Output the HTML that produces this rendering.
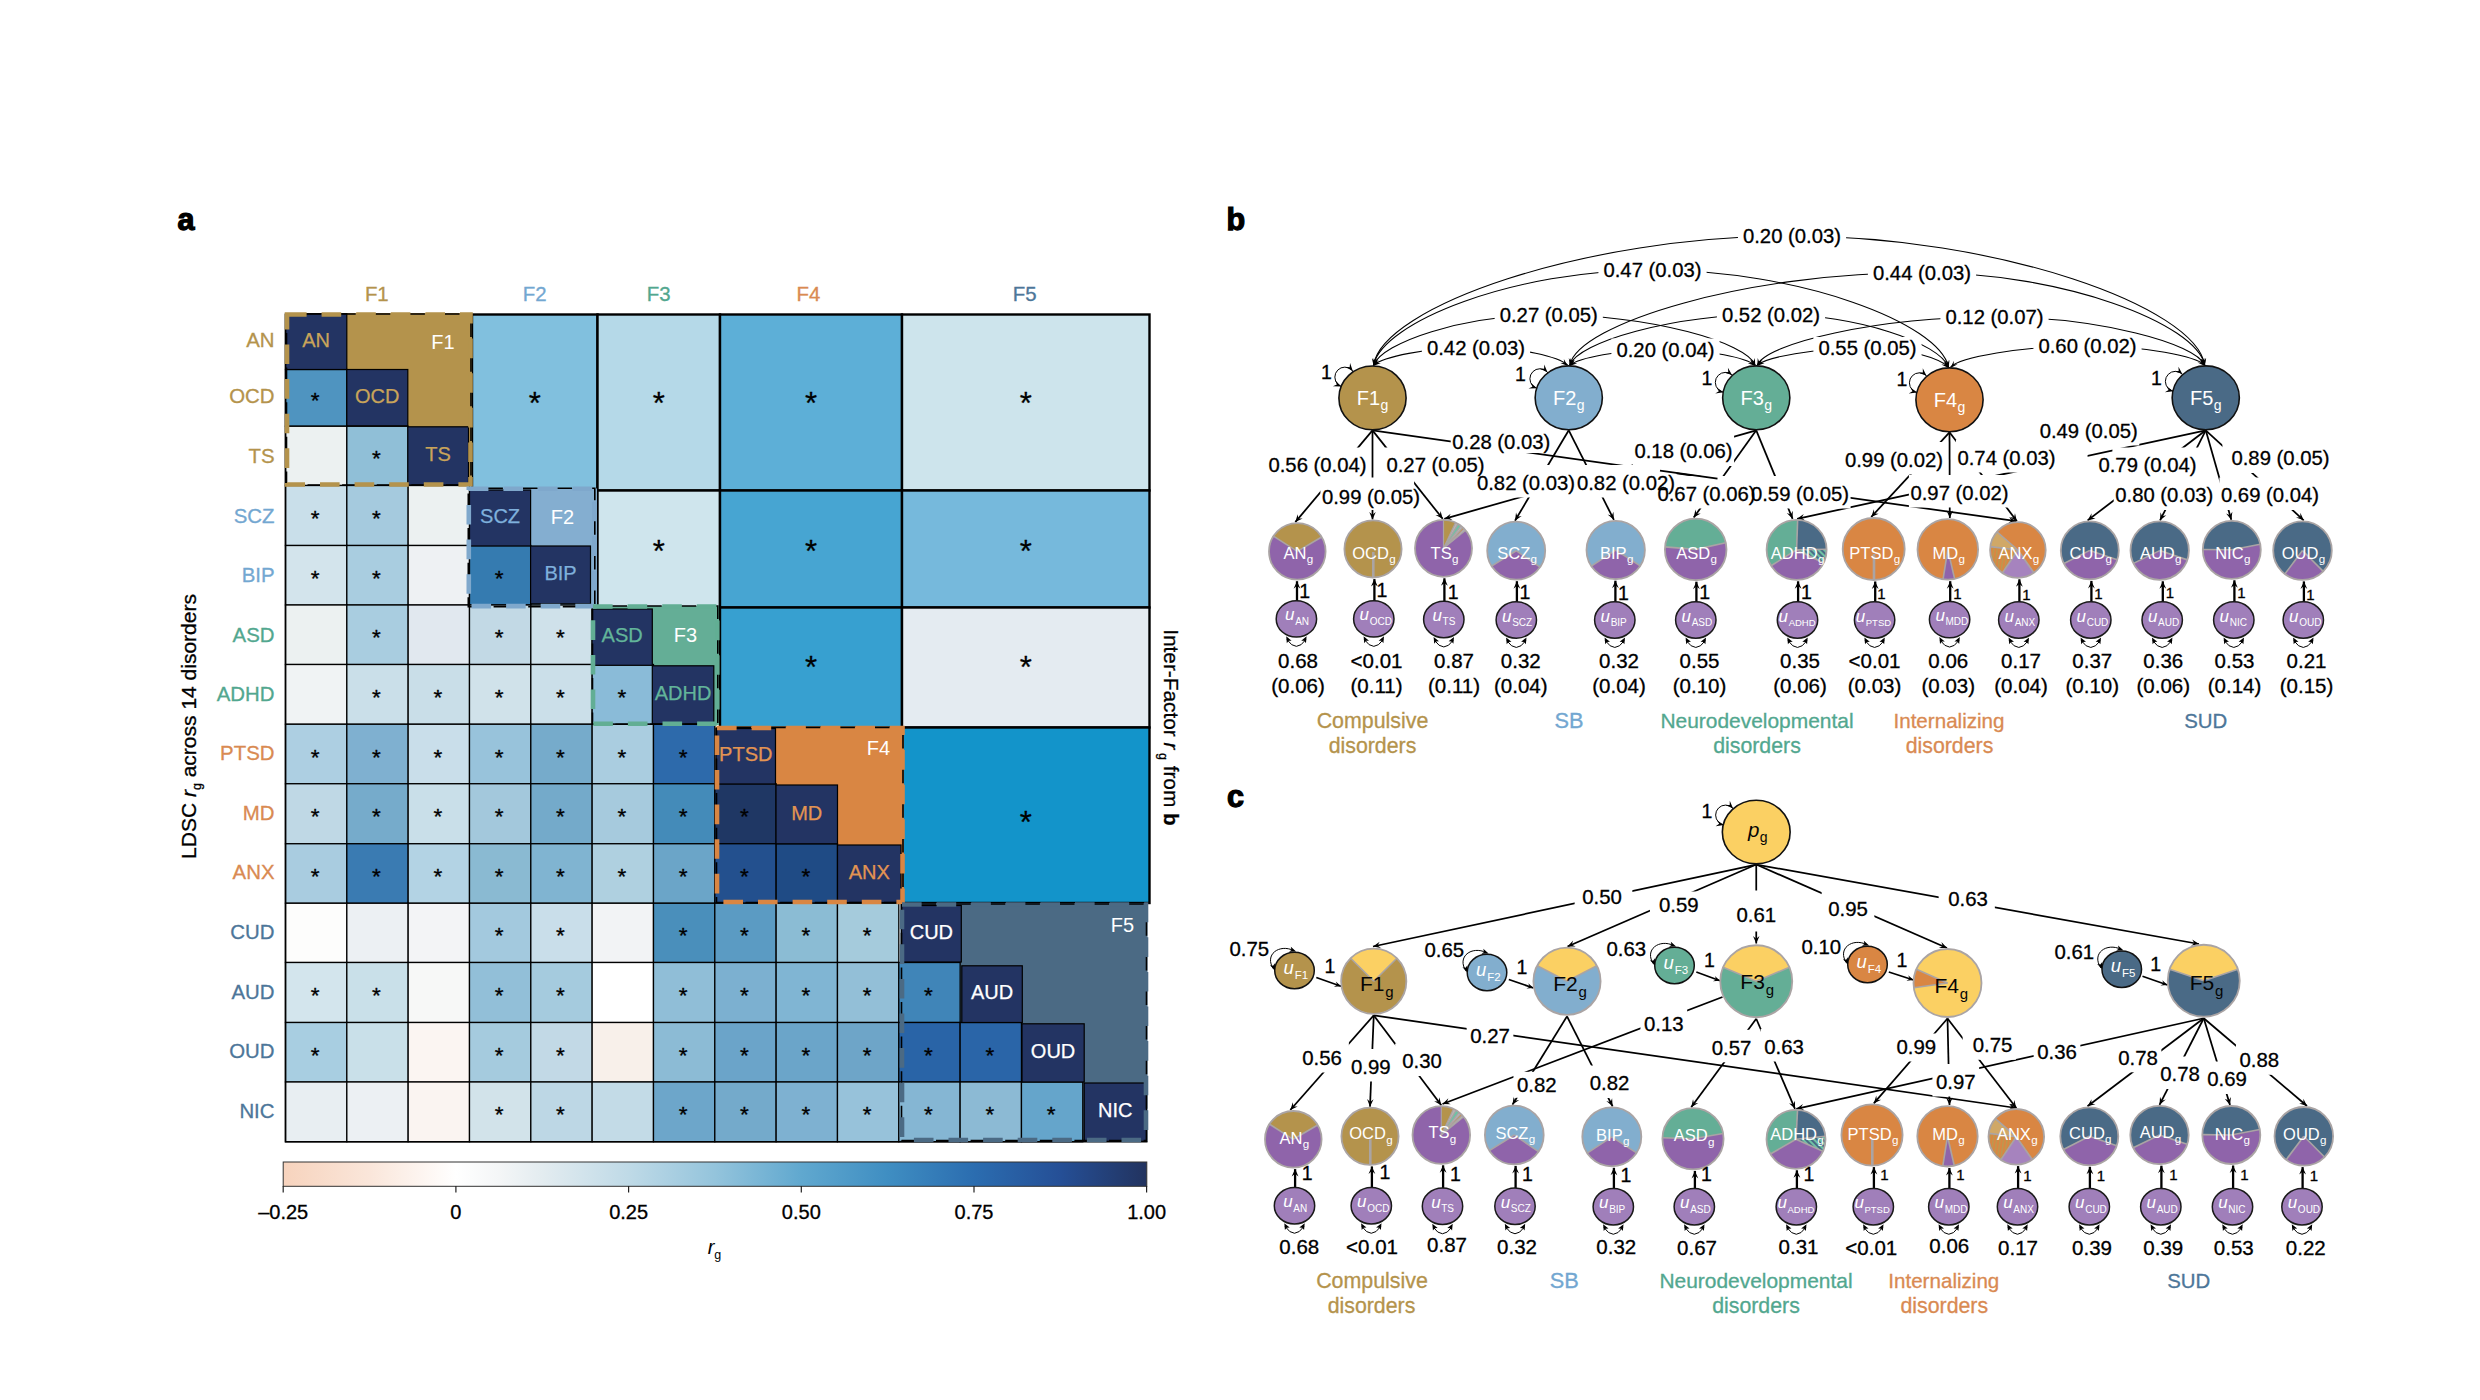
<!DOCTYPE html>
<html lang="en"><head><meta charset="utf-8"><title>Figure</title>
<style>html,body{margin:0;padding:0;background:#fff;}body{width:2480px;height:1400px;overflow:hidden;}svg{display:block;}text{font-family:"Liberation Sans", sans-serif;}.hv text[fill="#000"]{stroke:#000;stroke-width:0.3px;}</style>
</head><body>
<svg width="2480" height="1400" viewBox="0 0 2480 1400">
<defs>
<linearGradient id="cbar" x1="0" x2="1" y1="0" y2="0">
<stop offset="0.0" stop-color="#f7d3bd"/>
<stop offset="0.1" stop-color="#fae6da"/>
<stop offset="0.2" stop-color="#ffffff"/>
<stop offset="0.25" stop-color="#f4f6f7"/>
<stop offset="0.3" stop-color="#e3ecf0"/>
<stop offset="0.4" stop-color="#bfdae7"/>
<stop offset="0.5" stop-color="#94c4dc"/>
<stop offset="0.6" stop-color="#60a8cf"/>
<stop offset="0.7" stop-color="#3f8ec2"/>
<stop offset="0.8" stop-color="#2b6db0"/>
<stop offset="0.9" stop-color="#254f96"/>
<stop offset="1.0" stop-color="#22335f"/>
</linearGradient>
<pattern id="hatchG" width="4" height="4" patternUnits="userSpaceOnUse" patternTransform="rotate(-45)"><rect width="4" height="4" fill="#4a6a86"/><rect width="2" height="4" fill="#6fc2a4"/></pattern>
<pattern id="hatchO" width="3.4" height="3.4" patternUnits="userSpaceOnUse" patternTransform="rotate(8)"><rect width="3.4" height="3.4" fill="#d98643"/><rect width="1.3" height="3.4" fill="#b99a50"/></pattern>
</defs>
<rect width="2480" height="1400" fill="#fff"/>
<text x="177.5" y="229.5" font-size="30.5" font-weight="bold" fill="#000" stroke="#000" stroke-width="1.25">a</text>
<text x="1226.5" y="229.5" font-size="30.5" font-weight="bold" fill="#000" stroke="#000" stroke-width="1.25">b</text>
<text x="1227.0" y="806.5" font-size="30.5" font-weight="bold" fill="#000" stroke="#000" stroke-width="1.25">c</text>
<g id="panelA" class="hv">
<rect x="472.0" y="314.5" width="125.5" height="176.0" fill="#81c0de" stroke="#000" stroke-width="2.4"/>
<text x="534.75" y="413.55" font-size="31" text-anchor="middle" fill="#000" >*</text>
<rect x="597.5" y="314.5" width="122.5" height="176.0" fill="#b5d9e8" stroke="#000" stroke-width="2.4"/>
<text x="658.75" y="413.55" font-size="31" text-anchor="middle" fill="#000" >*</text>
<rect x="720.0" y="314.5" width="182.0" height="176.0" fill="#5dafd7" stroke="#000" stroke-width="2.4"/>
<text x="811.00" y="413.55" font-size="31" text-anchor="middle" fill="#000" >*</text>
<rect x="902.0" y="314.5" width="247.5" height="176.0" fill="#cde4ec" stroke="#000" stroke-width="2.4"/>
<text x="1025.75" y="413.55" font-size="31" text-anchor="middle" fill="#000" >*</text>
<rect x="597.5" y="490.5" width="122.5" height="117.0" fill="#cfe5ed" stroke="#000" stroke-width="2.4"/>
<text x="658.75" y="562.30" font-size="31" text-anchor="middle" fill="#000" >*</text>
<rect x="720.0" y="490.5" width="182.0" height="117.0" fill="#47a5d2" stroke="#000" stroke-width="2.4"/>
<text x="811.00" y="562.30" font-size="31" text-anchor="middle" fill="#000" >*</text>
<rect x="902.0" y="490.5" width="247.5" height="117.0" fill="#76b9dc" stroke="#000" stroke-width="2.4"/>
<text x="1025.75" y="562.30" font-size="31" text-anchor="middle" fill="#000" >*</text>
<rect x="720.0" y="607.5" width="182.0" height="120.0" fill="#37a0d0" stroke="#000" stroke-width="2.4"/>
<text x="811.00" y="677.80" font-size="31" text-anchor="middle" fill="#000" >*</text>
<rect x="902.0" y="607.5" width="247.5" height="120.0" fill="#e4ebf1" stroke="#000" stroke-width="2.4"/>
<text x="1025.75" y="677.80" font-size="31" text-anchor="middle" fill="#000" >*</text>
<rect x="902.0" y="727.5" width="247.5" height="175.5" fill="#1394ca" stroke="#000" stroke-width="2.4"/>
<text x="1025.75" y="832.80" font-size="31" text-anchor="middle" fill="#000" >*</text>
<rect x="285.5" y="313.0" width="186.5" height="173.0" fill="#b4934c"/>
<rect x="469.5" y="488.5" width="127.5" height="117.5" fill="#84aed0"/>
<rect x="592.0" y="606.0" width="127.0" height="119.0" fill="#64ae96"/>
<rect x="715.5" y="726.5" width="188.5" height="177.0" fill="#d98643"/>
<rect x="900.5" y="903.0" width="247.0" height="238.5" fill="#4b6a84"/>
<rect x="285.50" y="369.50" width="61.33" height="56.75" fill="#4f94c0" stroke="#000" stroke-width="1.3"/>
<rect x="285.50" y="426.25" width="61.33" height="59.25" fill="#ecf1f1" stroke="#000" stroke-width="1.3"/>
<rect x="346.83" y="426.25" width="61.33" height="59.25" fill="#90bfd7" stroke="#000" stroke-width="1.3"/>
<rect x="285.50" y="485.50" width="61.33" height="60.00" fill="#c9dfea" stroke="#000" stroke-width="1.3"/>
<rect x="346.83" y="485.50" width="61.33" height="60.00" fill="#a5cade" stroke="#000" stroke-width="1.3"/>
<rect x="408.16" y="485.50" width="61.33" height="60.00" fill="#ecf1f1" stroke="#000" stroke-width="1.3"/>
<rect x="285.50" y="545.50" width="61.33" height="59.50" fill="#d3e4ec" stroke="#000" stroke-width="1.3"/>
<rect x="346.83" y="545.50" width="61.33" height="59.50" fill="#a9cde0" stroke="#000" stroke-width="1.3"/>
<rect x="408.16" y="545.50" width="61.33" height="59.50" fill="#eef1f3" stroke="#000" stroke-width="1.3"/>
<rect x="469.49" y="545.50" width="61.33" height="59.50" fill="#357bb0" stroke="#000" stroke-width="1.3"/>
<rect x="285.50" y="605.00" width="61.33" height="59.50" fill="#ecf1f1" stroke="#000" stroke-width="1.3"/>
<rect x="346.83" y="605.00" width="61.33" height="59.50" fill="#a9cde0" stroke="#000" stroke-width="1.3"/>
<rect x="408.16" y="605.00" width="61.33" height="59.50" fill="#e1e8ef" stroke="#000" stroke-width="1.3"/>
<rect x="469.49" y="605.00" width="61.33" height="59.50" fill="#c2d9e5" stroke="#000" stroke-width="1.3"/>
<rect x="530.82" y="605.00" width="61.33" height="59.50" fill="#cfe1ea" stroke="#000" stroke-width="1.3"/>
<rect x="285.50" y="664.50" width="61.33" height="59.75" fill="#f0f3f4" stroke="#000" stroke-width="1.3"/>
<rect x="346.83" y="664.50" width="61.33" height="59.75" fill="#cadfe9" stroke="#000" stroke-width="1.3"/>
<rect x="408.16" y="664.50" width="61.33" height="59.75" fill="#c9dee8" stroke="#000" stroke-width="1.3"/>
<rect x="469.49" y="664.50" width="61.33" height="59.75" fill="#d0e2ea" stroke="#000" stroke-width="1.3"/>
<rect x="530.82" y="664.50" width="61.33" height="59.75" fill="#cbdfe9" stroke="#000" stroke-width="1.3"/>
<rect x="592.15" y="664.50" width="61.33" height="59.75" fill="#8abbd8" stroke="#000" stroke-width="1.3"/>
<rect x="285.50" y="724.25" width="61.33" height="59.50" fill="#adcfe2" stroke="#000" stroke-width="1.3"/>
<rect x="346.83" y="724.25" width="61.33" height="59.50" fill="#7fb0d0" stroke="#000" stroke-width="1.3"/>
<rect x="408.16" y="724.25" width="61.33" height="59.50" fill="#c9deea" stroke="#000" stroke-width="1.3"/>
<rect x="469.49" y="724.25" width="61.33" height="59.50" fill="#98c3db" stroke="#000" stroke-width="1.3"/>
<rect x="530.82" y="724.25" width="61.33" height="59.50" fill="#76abcb" stroke="#000" stroke-width="1.3"/>
<rect x="592.15" y="724.25" width="61.33" height="59.50" fill="#aacde0" stroke="#000" stroke-width="1.3"/>
<rect x="653.48" y="724.25" width="61.33" height="59.50" fill="#2d6aab" stroke="#000" stroke-width="1.3"/>
<rect x="285.50" y="783.75" width="61.33" height="60.00" fill="#bfd8e5" stroke="#000" stroke-width="1.3"/>
<rect x="346.83" y="783.75" width="61.33" height="60.00" fill="#76abcb" stroke="#000" stroke-width="1.3"/>
<rect x="408.16" y="783.75" width="61.33" height="60.00" fill="#c9dfe9" stroke="#000" stroke-width="1.3"/>
<rect x="469.49" y="783.75" width="61.33" height="60.00" fill="#a3c8dc" stroke="#000" stroke-width="1.3"/>
<rect x="530.82" y="783.75" width="61.33" height="60.00" fill="#74aaca" stroke="#000" stroke-width="1.3"/>
<rect x="592.15" y="783.75" width="61.33" height="60.00" fill="#a6cadd" stroke="#000" stroke-width="1.3"/>
<rect x="653.48" y="783.75" width="61.33" height="60.00" fill="#448bb9" stroke="#000" stroke-width="1.3"/>
<rect x="714.81" y="783.75" width="61.33" height="60.00" fill="#1f3764" stroke="#000" stroke-width="1.3"/>
<rect x="285.50" y="843.75" width="61.33" height="59.50" fill="#a9cce0" stroke="#000" stroke-width="1.3"/>
<rect x="346.83" y="843.75" width="61.33" height="59.50" fill="#3a7bb2" stroke="#000" stroke-width="1.3"/>
<rect x="408.16" y="843.75" width="61.33" height="59.50" fill="#b3d3e4" stroke="#000" stroke-width="1.3"/>
<rect x="469.49" y="843.75" width="61.33" height="59.50" fill="#8abad2" stroke="#000" stroke-width="1.3"/>
<rect x="530.82" y="843.75" width="61.33" height="59.50" fill="#80b4d1" stroke="#000" stroke-width="1.3"/>
<rect x="592.15" y="843.75" width="61.33" height="59.50" fill="#afd0e0" stroke="#000" stroke-width="1.3"/>
<rect x="653.48" y="843.75" width="61.33" height="59.50" fill="#6ba5c8" stroke="#000" stroke-width="1.3"/>
<rect x="714.81" y="843.75" width="61.33" height="59.50" fill="#23508e" stroke="#000" stroke-width="1.3"/>
<rect x="776.14" y="843.75" width="61.33" height="59.50" fill="#1f4b85" stroke="#000" stroke-width="1.3"/>
<rect x="285.50" y="903.25" width="61.33" height="59.25" fill="#fdfdfc" stroke="#000" stroke-width="1.3"/>
<rect x="346.83" y="903.25" width="61.33" height="59.25" fill="#ecf0f3" stroke="#000" stroke-width="1.3"/>
<rect x="408.16" y="903.25" width="61.33" height="59.25" fill="#f3f4f6" stroke="#000" stroke-width="1.3"/>
<rect x="469.49" y="903.25" width="61.33" height="59.25" fill="#a3c9de" stroke="#000" stroke-width="1.3"/>
<rect x="530.82" y="903.25" width="61.33" height="59.25" fill="#c9deea" stroke="#000" stroke-width="1.3"/>
<rect x="592.15" y="903.25" width="61.33" height="59.25" fill="#f2f3f5" stroke="#000" stroke-width="1.3"/>
<rect x="653.48" y="903.25" width="61.33" height="59.25" fill="#4a8fbb" stroke="#000" stroke-width="1.3"/>
<rect x="714.81" y="903.25" width="61.33" height="59.25" fill="#5b9bc3" stroke="#000" stroke-width="1.3"/>
<rect x="776.14" y="903.25" width="61.33" height="59.25" fill="#8bbcd4" stroke="#000" stroke-width="1.3"/>
<rect x="837.47" y="903.25" width="61.33" height="59.25" fill="#a5cbdc" stroke="#000" stroke-width="1.3"/>
<rect x="285.50" y="962.50" width="61.33" height="60.00" fill="#d3e5ed" stroke="#000" stroke-width="1.3"/>
<rect x="346.83" y="962.50" width="61.33" height="60.00" fill="#c9e0e9" stroke="#000" stroke-width="1.3"/>
<rect x="408.16" y="962.50" width="61.33" height="60.00" fill="#f7f8f7" stroke="#000" stroke-width="1.3"/>
<rect x="469.49" y="962.50" width="61.33" height="60.00" fill="#92bfd8" stroke="#000" stroke-width="1.3"/>
<rect x="530.82" y="962.50" width="61.33" height="60.00" fill="#a5cbde" stroke="#000" stroke-width="1.3"/>
<rect x="592.15" y="962.50" width="61.33" height="60.00" fill="#ffffff" stroke="#000" stroke-width="1.3"/>
<rect x="653.48" y="962.50" width="61.33" height="60.00" fill="#90bed7" stroke="#000" stroke-width="1.3"/>
<rect x="714.81" y="962.50" width="61.33" height="60.00" fill="#7cb0d0" stroke="#000" stroke-width="1.3"/>
<rect x="776.14" y="962.50" width="61.33" height="60.00" fill="#80b5d3" stroke="#000" stroke-width="1.3"/>
<rect x="837.47" y="962.50" width="61.33" height="60.00" fill="#93bfd7" stroke="#000" stroke-width="1.3"/>
<rect x="898.80" y="962.50" width="61.33" height="60.00" fill="#4085b8" stroke="#000" stroke-width="1.3"/>
<rect x="285.50" y="1022.50" width="61.33" height="59.50" fill="#a8cee1" stroke="#000" stroke-width="1.3"/>
<rect x="346.83" y="1022.50" width="61.33" height="59.50" fill="#c9e0e9" stroke="#000" stroke-width="1.3"/>
<rect x="408.16" y="1022.50" width="61.33" height="59.50" fill="#fbf5f2" stroke="#000" stroke-width="1.3"/>
<rect x="469.49" y="1022.50" width="61.33" height="59.50" fill="#a5cbde" stroke="#000" stroke-width="1.3"/>
<rect x="530.82" y="1022.50" width="61.33" height="59.50" fill="#c2d9e6" stroke="#000" stroke-width="1.3"/>
<rect x="592.15" y="1022.50" width="61.33" height="59.50" fill="#f8f0ea" stroke="#000" stroke-width="1.3"/>
<rect x="653.48" y="1022.50" width="61.33" height="59.50" fill="#8cbbd5" stroke="#000" stroke-width="1.3"/>
<rect x="714.81" y="1022.50" width="61.33" height="59.50" fill="#6ba4c9" stroke="#000" stroke-width="1.3"/>
<rect x="776.14" y="1022.50" width="61.33" height="59.50" fill="#6ba5c9" stroke="#000" stroke-width="1.3"/>
<rect x="837.47" y="1022.50" width="61.33" height="59.50" fill="#6ea5c8" stroke="#000" stroke-width="1.3"/>
<rect x="898.80" y="1022.50" width="61.33" height="59.50" fill="#2964a7" stroke="#000" stroke-width="1.3"/>
<rect x="960.13" y="1022.50" width="61.33" height="59.50" fill="#2a65a8" stroke="#000" stroke-width="1.3"/>
<rect x="285.50" y="1082.00" width="61.33" height="59.75" fill="#e8eef2" stroke="#000" stroke-width="1.3"/>
<rect x="346.83" y="1082.00" width="61.33" height="59.75" fill="#ecf0f3" stroke="#000" stroke-width="1.3"/>
<rect x="408.16" y="1082.00" width="61.33" height="59.75" fill="#faf4f1" stroke="#000" stroke-width="1.3"/>
<rect x="469.49" y="1082.00" width="61.33" height="59.75" fill="#d2e3ea" stroke="#000" stroke-width="1.3"/>
<rect x="530.82" y="1082.00" width="61.33" height="59.75" fill="#bdd7e5" stroke="#000" stroke-width="1.3"/>
<rect x="592.15" y="1082.00" width="61.33" height="59.75" fill="#c3dbe7" stroke="#000" stroke-width="1.3"/>
<rect x="653.48" y="1082.00" width="61.33" height="59.75" fill="#6da6ca" stroke="#000" stroke-width="1.3"/>
<rect x="714.81" y="1082.00" width="61.33" height="59.75" fill="#74aacb" stroke="#000" stroke-width="1.3"/>
<rect x="776.14" y="1082.00" width="61.33" height="59.75" fill="#7eb1d1" stroke="#000" stroke-width="1.3"/>
<rect x="837.47" y="1082.00" width="61.33" height="59.75" fill="#97c2da" stroke="#000" stroke-width="1.3"/>
<rect x="898.80" y="1082.00" width="61.33" height="59.75" fill="#85b6d3" stroke="#000" stroke-width="1.3"/>
<rect x="960.13" y="1082.00" width="61.33" height="59.75" fill="#8cbad4" stroke="#000" stroke-width="1.3"/>
<rect x="1021.46" y="1082.00" width="61.33" height="59.75" fill="#65a5cb" stroke="#000" stroke-width="1.3"/>
<rect x="285.5" y="313.75" width="61.30" height="55.75" fill="#233463" stroke="#000" stroke-width="1.2"/>
<rect x="346.8" y="369.5" width="61.00" height="56.30" fill="#233463" stroke="#000" stroke-width="1.2"/>
<rect x="407.8" y="426.8" width="60.70" height="58.20" fill="#233463" stroke="#000" stroke-width="1.2"/>
<rect x="469.5" y="490.0" width="61.10" height="56.00" fill="#233463" stroke="#000" stroke-width="1.2"/>
<rect x="530.6" y="546.0" width="59.90" height="57.80" fill="#233463" stroke="#000" stroke-width="1.2"/>
<rect x="592.0" y="609.0" width="60.30" height="56.30" fill="#233463" stroke="#000" stroke-width="1.2"/>
<rect x="652.3" y="665.8" width="61.50" height="58.00" fill="#233463" stroke="#000" stroke-width="1.2"/>
<rect x="716.0" y="728.5" width="59.50" height="55.50" fill="#233463" stroke="#000" stroke-width="1.2"/>
<rect x="776.0" y="785.0" width="61.50" height="58.80" fill="#233463" stroke="#000" stroke-width="1.2"/>
<rect x="837.5" y="845.0" width="63.50" height="57.50" fill="#233463" stroke="#000" stroke-width="1.2"/>
<rect x="901.5" y="905.5" width="59.80" height="56.50" fill="#233463" stroke="#000" stroke-width="1.2"/>
<rect x="961.8" y="965.8" width="60.50" height="56.70" fill="#233463" stroke="#000" stroke-width="1.2"/>
<rect x="1022.0" y="1023.8" width="62.20" height="58.20" fill="#233463" stroke="#000" stroke-width="1.2"/>
<rect x="1084.2" y="1083.0" width="62.30" height="58.30" fill="#233463" stroke="#000" stroke-width="1.2"/>
<text x="315.16" y="408.48" font-size="22.5" text-anchor="middle" fill="#000" stroke="#000" stroke-width="0.25">*</text>
<text x="376.50" y="466.48" font-size="22.5" text-anchor="middle" fill="#000" stroke="#000" stroke-width="0.25">*</text>
<text x="315.16" y="526.10" font-size="22.5" text-anchor="middle" fill="#000" stroke="#000" stroke-width="0.25">*</text>
<text x="376.50" y="526.10" font-size="22.5" text-anchor="middle" fill="#000" stroke="#000" stroke-width="0.25">*</text>
<text x="315.16" y="585.85" font-size="22.5" text-anchor="middle" fill="#000" stroke="#000" stroke-width="0.25">*</text>
<text x="376.50" y="585.85" font-size="22.5" text-anchor="middle" fill="#000" stroke="#000" stroke-width="0.25">*</text>
<text x="499.15" y="585.85" font-size="22.5" text-anchor="middle" fill="#000" stroke="#000" stroke-width="0.25">*</text>
<text x="376.50" y="645.35" font-size="22.5" text-anchor="middle" fill="#000" stroke="#000" stroke-width="0.25">*</text>
<text x="499.15" y="645.35" font-size="22.5" text-anchor="middle" fill="#000" stroke="#000" stroke-width="0.25">*</text>
<text x="560.48" y="645.35" font-size="22.5" text-anchor="middle" fill="#000" stroke="#000" stroke-width="0.25">*</text>
<text x="376.50" y="704.98" font-size="22.5" text-anchor="middle" fill="#000" stroke="#000" stroke-width="0.25">*</text>
<text x="437.82" y="704.98" font-size="22.5" text-anchor="middle" fill="#000" stroke="#000" stroke-width="0.25">*</text>
<text x="499.15" y="704.98" font-size="22.5" text-anchor="middle" fill="#000" stroke="#000" stroke-width="0.25">*</text>
<text x="560.48" y="704.98" font-size="22.5" text-anchor="middle" fill="#000" stroke="#000" stroke-width="0.25">*</text>
<text x="621.82" y="704.98" font-size="22.5" text-anchor="middle" fill="#000" stroke="#000" stroke-width="0.25">*</text>
<text x="315.16" y="764.60" font-size="22.5" text-anchor="middle" fill="#000" stroke="#000" stroke-width="0.25">*</text>
<text x="376.50" y="764.60" font-size="22.5" text-anchor="middle" fill="#000" stroke="#000" stroke-width="0.25">*</text>
<text x="437.82" y="764.60" font-size="22.5" text-anchor="middle" fill="#000" stroke="#000" stroke-width="0.25">*</text>
<text x="499.15" y="764.60" font-size="22.5" text-anchor="middle" fill="#000" stroke="#000" stroke-width="0.25">*</text>
<text x="560.48" y="764.60" font-size="22.5" text-anchor="middle" fill="#000" stroke="#000" stroke-width="0.25">*</text>
<text x="621.82" y="764.60" font-size="22.5" text-anchor="middle" fill="#000" stroke="#000" stroke-width="0.25">*</text>
<text x="683.14" y="764.60" font-size="22.5" text-anchor="middle" fill="#000" stroke="#000" stroke-width="0.25">*</text>
<text x="315.16" y="824.35" font-size="22.5" text-anchor="middle" fill="#000" stroke="#000" stroke-width="0.25">*</text>
<text x="376.50" y="824.35" font-size="22.5" text-anchor="middle" fill="#000" stroke="#000" stroke-width="0.25">*</text>
<text x="437.82" y="824.35" font-size="22.5" text-anchor="middle" fill="#000" stroke="#000" stroke-width="0.25">*</text>
<text x="499.15" y="824.35" font-size="22.5" text-anchor="middle" fill="#000" stroke="#000" stroke-width="0.25">*</text>
<text x="560.48" y="824.35" font-size="22.5" text-anchor="middle" fill="#000" stroke="#000" stroke-width="0.25">*</text>
<text x="621.82" y="824.35" font-size="22.5" text-anchor="middle" fill="#000" stroke="#000" stroke-width="0.25">*</text>
<text x="683.14" y="824.35" font-size="22.5" text-anchor="middle" fill="#000" stroke="#000" stroke-width="0.25">*</text>
<text x="744.47" y="824.35" font-size="22.5" text-anchor="middle" fill="#000" stroke="#000" stroke-width="0.25">*</text>
<text x="315.16" y="884.10" font-size="22.5" text-anchor="middle" fill="#000" stroke="#000" stroke-width="0.25">*</text>
<text x="376.50" y="884.10" font-size="22.5" text-anchor="middle" fill="#000" stroke="#000" stroke-width="0.25">*</text>
<text x="437.82" y="884.10" font-size="22.5" text-anchor="middle" fill="#000" stroke="#000" stroke-width="0.25">*</text>
<text x="499.15" y="884.10" font-size="22.5" text-anchor="middle" fill="#000" stroke="#000" stroke-width="0.25">*</text>
<text x="560.48" y="884.10" font-size="22.5" text-anchor="middle" fill="#000" stroke="#000" stroke-width="0.25">*</text>
<text x="621.82" y="884.10" font-size="22.5" text-anchor="middle" fill="#000" stroke="#000" stroke-width="0.25">*</text>
<text x="683.14" y="884.10" font-size="22.5" text-anchor="middle" fill="#000" stroke="#000" stroke-width="0.25">*</text>
<text x="744.47" y="884.10" font-size="22.5" text-anchor="middle" fill="#000" stroke="#000" stroke-width="0.25">*</text>
<text x="805.81" y="884.10" font-size="22.5" text-anchor="middle" fill="#000" stroke="#000" stroke-width="0.25">*</text>
<text x="499.15" y="943.48" font-size="22.5" text-anchor="middle" fill="#000" stroke="#000" stroke-width="0.25">*</text>
<text x="560.48" y="943.48" font-size="22.5" text-anchor="middle" fill="#000" stroke="#000" stroke-width="0.25">*</text>
<text x="683.14" y="943.48" font-size="22.5" text-anchor="middle" fill="#000" stroke="#000" stroke-width="0.25">*</text>
<text x="744.47" y="943.48" font-size="22.5" text-anchor="middle" fill="#000" stroke="#000" stroke-width="0.25">*</text>
<text x="805.81" y="943.48" font-size="22.5" text-anchor="middle" fill="#000" stroke="#000" stroke-width="0.25">*</text>
<text x="867.13" y="943.48" font-size="22.5" text-anchor="middle" fill="#000" stroke="#000" stroke-width="0.25">*</text>
<text x="315.16" y="1003.10" font-size="22.5" text-anchor="middle" fill="#000" stroke="#000" stroke-width="0.25">*</text>
<text x="376.50" y="1003.10" font-size="22.5" text-anchor="middle" fill="#000" stroke="#000" stroke-width="0.25">*</text>
<text x="499.15" y="1003.10" font-size="22.5" text-anchor="middle" fill="#000" stroke="#000" stroke-width="0.25">*</text>
<text x="560.48" y="1003.10" font-size="22.5" text-anchor="middle" fill="#000" stroke="#000" stroke-width="0.25">*</text>
<text x="683.14" y="1003.10" font-size="22.5" text-anchor="middle" fill="#000" stroke="#000" stroke-width="0.25">*</text>
<text x="744.47" y="1003.10" font-size="22.5" text-anchor="middle" fill="#000" stroke="#000" stroke-width="0.25">*</text>
<text x="805.81" y="1003.10" font-size="22.5" text-anchor="middle" fill="#000" stroke="#000" stroke-width="0.25">*</text>
<text x="867.13" y="1003.10" font-size="22.5" text-anchor="middle" fill="#000" stroke="#000" stroke-width="0.25">*</text>
<text x="928.46" y="1003.10" font-size="22.5" text-anchor="middle" fill="#000" stroke="#000" stroke-width="0.25">*</text>
<text x="315.16" y="1062.85" font-size="22.5" text-anchor="middle" fill="#000" stroke="#000" stroke-width="0.25">*</text>
<text x="499.15" y="1062.85" font-size="22.5" text-anchor="middle" fill="#000" stroke="#000" stroke-width="0.25">*</text>
<text x="560.48" y="1062.85" font-size="22.5" text-anchor="middle" fill="#000" stroke="#000" stroke-width="0.25">*</text>
<text x="683.14" y="1062.85" font-size="22.5" text-anchor="middle" fill="#000" stroke="#000" stroke-width="0.25">*</text>
<text x="744.47" y="1062.85" font-size="22.5" text-anchor="middle" fill="#000" stroke="#000" stroke-width="0.25">*</text>
<text x="805.81" y="1062.85" font-size="22.5" text-anchor="middle" fill="#000" stroke="#000" stroke-width="0.25">*</text>
<text x="867.13" y="1062.85" font-size="22.5" text-anchor="middle" fill="#000" stroke="#000" stroke-width="0.25">*</text>
<text x="928.46" y="1062.85" font-size="22.5" text-anchor="middle" fill="#000" stroke="#000" stroke-width="0.25">*</text>
<text x="989.80" y="1062.85" font-size="22.5" text-anchor="middle" fill="#000" stroke="#000" stroke-width="0.25">*</text>
<text x="499.15" y="1122.47" font-size="22.5" text-anchor="middle" fill="#000" stroke="#000" stroke-width="0.25">*</text>
<text x="560.48" y="1122.47" font-size="22.5" text-anchor="middle" fill="#000" stroke="#000" stroke-width="0.25">*</text>
<text x="683.14" y="1122.47" font-size="22.5" text-anchor="middle" fill="#000" stroke="#000" stroke-width="0.25">*</text>
<text x="744.47" y="1122.47" font-size="22.5" text-anchor="middle" fill="#000" stroke="#000" stroke-width="0.25">*</text>
<text x="805.81" y="1122.47" font-size="22.5" text-anchor="middle" fill="#000" stroke="#000" stroke-width="0.25">*</text>
<text x="867.13" y="1122.47" font-size="22.5" text-anchor="middle" fill="#000" stroke="#000" stroke-width="0.25">*</text>
<text x="928.46" y="1122.47" font-size="22.5" text-anchor="middle" fill="#000" stroke="#000" stroke-width="0.25">*</text>
<text x="989.80" y="1122.47" font-size="22.5" text-anchor="middle" fill="#000" stroke="#000" stroke-width="0.25">*</text>
<text x="1051.12" y="1122.47" font-size="22.5" text-anchor="middle" fill="#000" stroke="#000" stroke-width="0.25">*</text>
<text x="316.15" y="346.82" font-size="20" text-anchor="middle" fill="#c9a45a" stroke="#c9a45a" stroke-width="0.25">AN</text>
<text x="377.30" y="402.85" font-size="20" text-anchor="middle" fill="#c9a45a" stroke="#c9a45a" stroke-width="0.25">OCD</text>
<text x="438.15" y="461.10" font-size="20" text-anchor="middle" fill="#c9a45a" stroke="#c9a45a" stroke-width="0.25">TS</text>
<text x="500.05" y="523.20" font-size="20" text-anchor="middle" fill="#7fb0dc" stroke="#7fb0dc" stroke-width="0.25">SCZ</text>
<text x="560.55" y="580.10" font-size="20" text-anchor="middle" fill="#7fb0dc" stroke="#7fb0dc" stroke-width="0.25">BIP</text>
<text x="622.15" y="642.35" font-size="20" text-anchor="middle" fill="#62b59a" stroke="#62b59a" stroke-width="0.25">ASD</text>
<text x="683.05" y="700.00" font-size="20" text-anchor="middle" fill="#62b59a" stroke="#62b59a" stroke-width="0.25">ADHD</text>
<text x="745.75" y="761.45" font-size="20" text-anchor="middle" fill="#e39452" stroke="#e39452" stroke-width="0.25">PTSD</text>
<text x="806.75" y="819.60" font-size="20" text-anchor="middle" fill="#e39452" stroke="#e39452" stroke-width="0.25">MD</text>
<text x="869.25" y="878.95" font-size="20" text-anchor="middle" fill="#e39452" stroke="#e39452" stroke-width="0.25">ANX</text>
<text x="931.40" y="938.95" font-size="20" text-anchor="middle" fill="#ffffff" stroke="#ffffff" stroke-width="0.25">CUD</text>
<text x="992.05" y="999.35" font-size="20" text-anchor="middle" fill="#ffffff" stroke="#ffffff" stroke-width="0.25">AUD</text>
<text x="1053.10" y="1058.10" font-size="20" text-anchor="middle" fill="#ffffff" stroke="#ffffff" stroke-width="0.25">OUD</text>
<text x="1115.35" y="1117.35" font-size="20" text-anchor="middle" fill="#ffffff" stroke="#ffffff" stroke-width="0.25">NIC</text>
<text x="443.00" y="348.50" font-size="20" text-anchor="middle" fill="#fff" >F1</text>
<text x="562.50" y="524.00" font-size="20" text-anchor="middle" fill="#fff" >F2</text>
<text x="685.50" y="642.00" font-size="20" text-anchor="middle" fill="#fff" >F3</text>
<text x="878.50" y="755.00" font-size="20" text-anchor="middle" fill="#fff" >F4</text>
<text x="1122.50" y="931.50" font-size="20" text-anchor="middle" fill="#fff" >F5</text>
<path d="M285.50 313.75 V1141.75 H1147.5" fill="none" stroke="#000" stroke-width="1.6"/>
<rect x="286.5" y="314.0" width="184.50" height="171.00" fill="none" stroke="#000" stroke-width="1.6" stroke-dasharray="15 19.6" stroke-dashoffset="-19.6"/>
<rect x="287.0" y="314.5" width="183.50" height="170.00" fill="none" stroke="#b4934c" stroke-width="4.6" stroke-dasharray="19.6 15"/>
<rect x="468.3" y="488.3" width="126.50" height="118.30" fill="none" stroke="#000" stroke-width="1.6" stroke-dasharray="15 19.6" stroke-dashoffset="-19.6"/>
<rect x="468.8" y="488.8" width="125.50" height="117.30" fill="none" stroke="#7fa8cc" stroke-width="4.6" stroke-dasharray="19.6 15"/>
<rect x="592.5" y="606.0" width="125.30" height="118.30" fill="none" stroke="#000" stroke-width="1.6" stroke-dasharray="15 19.6" stroke-dashoffset="-19.6"/>
<rect x="593.0" y="606.5" width="124.30" height="117.30" fill="none" stroke="#62ae94" stroke-width="4.6" stroke-dasharray="19.6 15"/>
<rect x="716.5" y="727.5" width="186.50" height="175.00" fill="none" stroke="#000" stroke-width="1.6" stroke-dasharray="15 19.6" stroke-dashoffset="-19.6"/>
<rect x="717.0" y="728.0" width="185.50" height="174.00" fill="none" stroke="#d98643" stroke-width="4.6" stroke-dasharray="19.6 15"/>
<rect x="901.5" y="904.0" width="245.00" height="236.50" fill="none" stroke="#000" stroke-width="1.6" stroke-dasharray="15 19.6" stroke-dashoffset="-19.6"/>
<rect x="902.0" y="904.5" width="244.00" height="235.50" fill="none" stroke="#4b6a84" stroke-width="4.6" stroke-dasharray="19.6 15"/>
<text x="274.50" y="346.60" font-size="20.4" text-anchor="end" fill="#b4934c" stroke="#b4934c" stroke-width="0.3">AN</text>
<text x="274.50" y="403.20" font-size="20.4" text-anchor="end" fill="#b4934c" stroke="#b4934c" stroke-width="0.3">OCD</text>
<text x="274.50" y="462.80" font-size="20.4" text-anchor="end" fill="#b4934c" stroke="#b4934c" stroke-width="0.3">TS</text>
<text x="274.50" y="522.50" font-size="20.4" text-anchor="end" fill="#73a7d1" stroke="#73a7d1" stroke-width="0.3">SCZ</text>
<text x="274.50" y="582.30" font-size="20.4" text-anchor="end" fill="#73a7d1" stroke="#73a7d1" stroke-width="0.3">BIP</text>
<text x="274.50" y="641.50" font-size="20.4" text-anchor="end" fill="#52a78f" stroke="#52a78f" stroke-width="0.3">ASD</text>
<text x="274.50" y="700.80" font-size="20.4" text-anchor="end" fill="#52a78f" stroke="#52a78f" stroke-width="0.3">ADHD</text>
<text x="274.50" y="760.30" font-size="20.4" text-anchor="end" fill="#d98a52" stroke="#d98a52" stroke-width="0.3">PTSD</text>
<text x="274.50" y="819.60" font-size="20.4" text-anchor="end" fill="#d98a52" stroke="#d98a52" stroke-width="0.3">MD</text>
<text x="274.50" y="879.00" font-size="20.4" text-anchor="end" fill="#d98a52" stroke="#d98a52" stroke-width="0.3">ANX</text>
<text x="274.50" y="938.80" font-size="20.4" text-anchor="end" fill="#4d7699" stroke="#4d7699" stroke-width="0.3">CUD</text>
<text x="274.50" y="998.50" font-size="20.4" text-anchor="end" fill="#4d7699" stroke="#4d7699" stroke-width="0.3">AUD</text>
<text x="274.50" y="1058.00" font-size="20.4" text-anchor="end" fill="#4d7699" stroke="#4d7699" stroke-width="0.3">OUD</text>
<text x="274.50" y="1117.50" font-size="20.4" text-anchor="end" fill="#4d7699" stroke="#4d7699" stroke-width="0.3">NIC</text>
<text x="376.80" y="301.00" font-size="20.4" text-anchor="middle" fill="#b4934c" stroke="#b4934c" stroke-width="0.3">F1</text>
<text x="534.60" y="301.00" font-size="20.4" text-anchor="middle" fill="#73a7d1" stroke="#73a7d1" stroke-width="0.3">F2</text>
<text x="658.70" y="301.00" font-size="20.4" text-anchor="middle" fill="#52a78f" stroke="#52a78f" stroke-width="0.3">F3</text>
<text x="808.50" y="301.00" font-size="20.4" text-anchor="middle" fill="#d98a52" stroke="#d98a52" stroke-width="0.3">F4</text>
<text x="1024.60" y="301.00" font-size="20.4" text-anchor="middle" fill="#4d7699" stroke="#4d7699" stroke-width="0.3">F5</text>
<text fill="#000" transform="translate(196,726.5) rotate(-90)" font-size="21" text-anchor="middle">LDSC <tspan font-style="italic">r</tspan><tspan font-size="12.5" dy="5">g</tspan><tspan dy="-5"> across 14 disorders</tspan></text>
<text fill="#000" transform="translate(1164,727.5) rotate(90)" font-size="20.8" text-anchor="middle">Inter-Factor <tspan font-style="italic">r</tspan><tspan font-size="12.5" dy="5"> g</tspan><tspan dy="-5"> from </tspan><tspan font-weight="bold">b</tspan></text>
<rect x="283.2" y="1162" width="863.6" height="24.3" fill="url(#cbar)" stroke="#333" stroke-width="1"/>
<line x1="283.2" y1="1186" x2="283.2" y2="1192.5" stroke="#222" stroke-width="1.2"/>
<text x="283.20" y="1219.20" font-size="20" text-anchor="middle" fill="#000" >–0.25</text>
<line x1="455.9" y1="1186" x2="455.9" y2="1192.5" stroke="#222" stroke-width="1.2"/>
<text x="455.90" y="1219.20" font-size="20" text-anchor="middle" fill="#000" >0</text>
<line x1="628.6" y1="1186" x2="628.6" y2="1192.5" stroke="#222" stroke-width="1.2"/>
<text x="628.60" y="1219.20" font-size="20" text-anchor="middle" fill="#000" >0.25</text>
<line x1="801.3" y1="1186" x2="801.3" y2="1192.5" stroke="#222" stroke-width="1.2"/>
<text x="801.30" y="1219.20" font-size="20" text-anchor="middle" fill="#000" >0.50</text>
<line x1="974.0" y1="1186" x2="974.0" y2="1192.5" stroke="#222" stroke-width="1.2"/>
<text x="974.00" y="1219.20" font-size="20" text-anchor="middle" fill="#000" >0.75</text>
<line x1="1146.6" y1="1186" x2="1146.6" y2="1192.5" stroke="#222" stroke-width="1.2"/>
<text x="1146.60" y="1219.20" font-size="20" text-anchor="middle" fill="#000" >1.00</text>
<text x="714.5" y="1254" font-size="20" text-anchor="middle"><tspan font-style="italic">r</tspan><tspan font-size="12.5" dy="5">g</tspan></text>
</g>
<g id="panelB" class="hv">
<path d="M1373.50 365.20 C1382.50 357.24 1424.75 347.50 1476.00 347.50 C1521.88 347.50 1558.75 357.18 1567.75 365.10" fill="none" stroke="#000" stroke-width="1.05"/>
<path d="M1373.50 366.00 L1377.39 359.08 L1376.98 362.92 L1380.84 362.98 Z" fill="#000"/>
<path d="M1567.75 365.90 L1560.40 362.90 L1564.26 362.83 L1563.84 358.99 Z" fill="#000"/>
<path d="M1373.50 365.20 C1382.50 342.61 1461.12 315.00 1548.75 315.00 C1652.00 315.00 1746.25 342.56 1755.25 365.10" fill="none" stroke="#000" stroke-width="1.05"/>
<path d="M1373.50 366.00 L1373.86 358.07 L1375.22 361.68 L1378.69 359.99 Z" fill="#000"/>
<path d="M1755.25 365.90 L1750.05 359.90 L1753.53 361.58 L1754.88 357.97 Z" fill="#000"/>
<path d="M1373.50 365.20 C1382.50 322.36 1513.00 270.00 1652.50 270.00 C1800.50 270.00 1939.50 323.41 1948.50 367.10" fill="none" stroke="#000" stroke-width="1.05"/>
<path d="M1373.50 366.00 L1372.50 358.13 L1374.46 361.45 L1377.59 359.19 Z" fill="#000"/>
<path d="M1948.50 367.90 L1944.44 361.08 L1947.56 363.35 L1949.53 360.03 Z" fill="#000"/>
<path d="M1373.50 365.20 C1382.50 307.06 1582.75 236.00 1792.00 236.00 C1998.38 236.00 2195.75 307.00 2204.75 365.10" fill="none" stroke="#000" stroke-width="1.05"/>
<path d="M1373.50 366.00 L1372.08 358.19 L1374.21 361.40 L1377.22 358.99 Z" fill="#000"/>
<path d="M2204.75 365.90 L2201.03 358.89 L2204.04 361.30 L2206.17 358.09 Z" fill="#000"/>
<path d="M1569.75 365.10 C1578.75 358.08 1617.62 349.50 1665.50 349.50 C1710.38 349.50 1746.25 358.08 1755.25 365.10" fill="none" stroke="#000" stroke-width="1.05"/>
<path d="M1569.75 365.90 L1574.06 359.24 L1573.42 363.04 L1577.26 363.34 Z" fill="#000"/>
<path d="M1755.25 365.90 L1747.74 363.34 L1751.58 363.04 L1750.94 359.24 Z" fill="#000"/>
<path d="M1569.75 365.10 C1578.75 342.33 1670.38 314.50 1771.00 314.50 C1859.75 314.50 1939.50 343.43 1948.50 367.10" fill="none" stroke="#000" stroke-width="1.05"/>
<path d="M1569.75 365.90 L1570.09 357.97 L1571.46 361.58 L1574.92 359.88 Z" fill="#000"/>
<path d="M1948.50 367.90 L1943.40 361.81 L1946.85 363.55 L1948.26 359.97 Z" fill="#000"/>
<path d="M1569.75 365.10 C1578.75 323.43 1745.88 272.50 1922.00 272.50 C2063.38 272.50 2195.75 323.43 2204.75 365.10" fill="none" stroke="#000" stroke-width="1.05"/>
<path d="M1569.75 365.90 L1568.79 358.02 L1570.73 361.35 L1573.87 359.12 Z" fill="#000"/>
<path d="M2204.75 365.90 L2200.63 359.12 L2203.77 361.35 L2205.71 358.02 Z" fill="#000"/>
<path d="M1757.25 365.10 C1766.25 357.41 1812.38 348.00 1867.50 348.00 C1908.00 348.00 1939.50 358.50 1948.50 367.10" fill="none" stroke="#000" stroke-width="1.05"/>
<path d="M1757.25 365.90 L1761.26 359.05 L1760.78 362.88 L1764.64 363.00 Z" fill="#000"/>
<path d="M1948.50 367.90 L1941.28 364.60 L1945.14 364.69 L1944.87 360.84 Z" fill="#000"/>
<path d="M1757.25 365.10 C1766.25 343.46 1875.88 317.00 1994.50 317.00 C2099.62 317.00 2195.75 343.46 2204.75 365.10" fill="none" stroke="#000" stroke-width="1.05"/>
<path d="M1757.25 365.90 L1757.73 357.98 L1759.04 361.61 L1762.53 359.97 Z" fill="#000"/>
<path d="M2204.75 365.90 L2199.47 359.97 L2202.96 361.61 L2204.27 357.98 Z" fill="#000"/>
<path d="M1950.50 367.10 C1959.50 357.61 2019.00 346.00 2087.50 346.00 C2146.12 346.00 2195.75 356.50 2204.75 365.10" fill="none" stroke="#000" stroke-width="1.05"/>
<path d="M1950.50 367.90 L1953.77 360.67 L1953.70 364.53 L1957.55 364.25 Z" fill="#000"/>
<path d="M2204.75 365.90 L2197.53 362.60 L2201.39 362.69 L2201.12 358.84 Z" fill="#000"/>
<line x1="1372.50" y1="430.40" x2="1295.30" y2="522.10" stroke="#000" stroke-width="1.75"/>
<path d="M1295.30 522.10 L1297.64 514.27 L1298.29 518.54 L1302.62 518.46 Z" fill="#000"/>
<line x1="1372.50" y1="430.40" x2="1372.50" y2="519.40" stroke="#000" stroke-width="1.75"/>
<path d="M1372.50 519.40 L1369.25 511.90 L1372.50 514.75 L1375.75 511.90 Z" fill="#000"/>
<line x1="1372.50" y1="430.40" x2="1442.70" y2="518.80" stroke="#000" stroke-width="1.75"/>
<path d="M1442.70 518.80 L1435.49 514.95 L1439.81 515.16 L1440.58 510.91 Z" fill="#000"/>
<line x1="1372.50" y1="430.40" x2="2016.10" y2="521.20" stroke="#000" stroke-width="1.75"/>
<path d="M2016.10 521.20 L2008.22 523.37 L2011.50 520.55 L2009.13 516.93 Z" fill="#000"/>
<line x1="1568.75" y1="430.30" x2="1515.00" y2="520.70" stroke="#000" stroke-width="1.75"/>
<path d="M1515.00 520.70 L1516.04 512.59 L1517.38 516.70 L1521.63 515.91 Z" fill="#000"/>
<line x1="1568.75" y1="430.30" x2="1613.90" y2="519.80" stroke="#000" stroke-width="1.75"/>
<path d="M1613.90 519.80 L1607.62 514.57 L1611.81 515.65 L1613.42 511.64 Z" fill="#000"/>
<line x1="1756.25" y1="430.30" x2="1444.30" y2="518.80" stroke="#000" stroke-width="1.75"/>
<path d="M1444.30 518.80 L1450.63 513.63 L1448.77 517.53 L1452.40 519.88 Z" fill="#000"/>
<line x1="1756.25" y1="430.30" x2="1693.70" y2="517.60" stroke="#000" stroke-width="1.75"/>
<path d="M1693.70 517.60 L1695.43 509.61 L1696.41 513.82 L1700.71 513.40 Z" fill="#000"/>
<line x1="1756.25" y1="430.30" x2="1792.60" y2="518.80" stroke="#000" stroke-width="1.75"/>
<path d="M1792.60 518.80 L1786.74 513.10 L1790.83 514.50 L1792.76 510.63 Z" fill="#000"/>
<line x1="1949.50" y1="432.30" x2="1871.20" y2="517.00" stroke="#000" stroke-width="1.75"/>
<path d="M1871.20 517.00 L1873.90 509.29 L1874.36 513.59 L1878.68 513.70 Z" fill="#000"/>
<line x1="1949.50" y1="432.30" x2="1949.80" y2="518.10" stroke="#000" stroke-width="1.75"/>
<path d="M1949.80 518.10 L1946.52 510.61 L1949.78 513.45 L1953.02 510.59 Z" fill="#000"/>
<line x1="1949.50" y1="432.30" x2="2016.90" y2="521.20" stroke="#000" stroke-width="1.75"/>
<path d="M2016.90 521.20 L2009.78 517.19 L2014.09 517.49 L2014.96 513.26 Z" fill="#000"/>
<line x1="2205.75" y1="430.30" x2="1797.10" y2="518.80" stroke="#000" stroke-width="1.75"/>
<path d="M1797.10 518.80 L1803.74 514.04 L1801.64 517.82 L1805.12 520.39 Z" fill="#000"/>
<line x1="2205.75" y1="430.30" x2="2087.60" y2="520.40" stroke="#000" stroke-width="1.75"/>
<path d="M2087.60 520.40 L2091.59 513.27 L2091.30 517.58 L2095.53 518.44 Z" fill="#000"/>
<line x1="2205.75" y1="430.30" x2="2160.00" y2="520.40" stroke="#000" stroke-width="1.75"/>
<path d="M2160.00 520.40 L2160.50 512.24 L2162.11 516.25 L2166.29 515.18 Z" fill="#000"/>
<line x1="2205.75" y1="430.30" x2="2231.30" y2="519.80" stroke="#000" stroke-width="1.75"/>
<path d="M2231.30 519.80 L2226.12 513.48 L2230.02 515.33 L2232.37 511.70 Z" fill="#000"/>
<line x1="2205.75" y1="430.30" x2="2303.70" y2="520.30" stroke="#000" stroke-width="1.75"/>
<path d="M2303.70 520.30 L2295.98 517.62 L2300.28 517.15 L2300.38 512.83 Z" fill="#000"/>
<line x1="1297.00" y1="601.40" x2="1297.00" y2="581.20" stroke="#000" stroke-width="2.3"/>
<path d="M1297.00 581.20 L1300.40 588.70 L1297.00 585.85 L1293.60 588.70 Z" fill="#000"/>
<line x1="1374.40" y1="601.40" x2="1374.40" y2="579.10" stroke="#000" stroke-width="2.3"/>
<path d="M1374.40 579.10 L1377.80 586.60 L1374.40 583.75 L1371.00 586.60 Z" fill="#000"/>
<line x1="1444.40" y1="602.00" x2="1444.40" y2="578.30" stroke="#000" stroke-width="2.3"/>
<path d="M1444.40 578.30 L1447.80 585.80 L1444.40 582.95 L1441.00 585.80 Z" fill="#000"/>
<line x1="1516.90" y1="602.50" x2="1516.90" y2="581.20" stroke="#000" stroke-width="2.3"/>
<path d="M1516.90 581.20 L1520.30 588.70 L1516.90 585.85 L1513.50 588.70 Z" fill="#000"/>
<line x1="1615.40" y1="602.50" x2="1615.40" y2="580.70" stroke="#000" stroke-width="2.3"/>
<path d="M1615.40 580.70 L1618.80 588.20 L1615.40 585.35 L1612.00 588.20 Z" fill="#000"/>
<line x1="1696.40" y1="602.50" x2="1696.40" y2="581.70" stroke="#000" stroke-width="2.3"/>
<path d="M1696.40 581.70 L1699.80 589.20 L1696.40 586.35 L1693.00 589.20 Z" fill="#000"/>
<line x1="1798.10" y1="602.50" x2="1798.10" y2="581.30" stroke="#000" stroke-width="2.3"/>
<path d="M1798.10 581.30 L1801.50 588.80 L1798.10 585.95 L1794.70 588.80 Z" fill="#000"/>
<line x1="1875.20" y1="602.50" x2="1875.20" y2="581.50" stroke="#000" stroke-width="2.3"/>
<path d="M1875.20 581.50 L1878.60 589.00 L1875.20 586.15 L1871.80 589.00 Z" fill="#000"/>
<line x1="1950.20" y1="602.10" x2="1950.20" y2="581.20" stroke="#000" stroke-width="2.3"/>
<path d="M1950.20 581.20 L1953.60 588.70 L1950.20 585.85 L1946.80 588.70 Z" fill="#000"/>
<line x1="2019.40" y1="602.50" x2="2019.40" y2="579.30" stroke="#000" stroke-width="2.3"/>
<path d="M2019.40 579.30 L2022.80 586.80 L2019.40 583.95 L2016.00 586.80 Z" fill="#000"/>
<line x1="2091.40" y1="602.50" x2="2091.40" y2="580.90" stroke="#000" stroke-width="2.3"/>
<path d="M2091.40 580.90 L2094.80 588.40 L2091.40 585.55 L2088.00 588.40 Z" fill="#000"/>
<line x1="2162.80" y1="602.50" x2="2162.80" y2="581.30" stroke="#000" stroke-width="2.3"/>
<path d="M2162.80 581.30 L2166.20 588.80 L2162.80 585.95 L2159.40 588.80 Z" fill="#000"/>
<line x1="2303.90" y1="602.50" x2="2303.90" y2="581.40" stroke="#000" stroke-width="2.3"/>
<path d="M2303.90 581.40 L2307.30 588.90 L2303.90 586.05 L2300.50 588.90 Z" fill="#000"/>
<line x1="2234.40" y1="602.50" x2="2234.40" y2="580.30" stroke="#000" stroke-width="2.3"/>
<path d="M2234.40 580.30 L2237.80 587.80 L2234.40 584.95 L2231.00 587.80 Z" fill="#000"/>
<circle cx="1344.85" cy="377.14" r="10.0" fill="none" stroke="#000" stroke-width="1.0"/>
<ellipse cx="1372.5" cy="397.90000000000003" rx="33.6" ry="31.9" fill="#b4934c" stroke="#111" stroke-width="1.6"/>
<path d="M1341.31 386.53 L1332.92 386.26 L1336.87 384.60 L1335.39 380.57 Z" fill="#000"/>
<path d="M1352.79 371.01 L1345.37 367.09 L1349.65 367.33 L1350.08 363.06 Z" fill="#000"/>
<text x="1372.50" y="404.80" font-size="20" text-anchor="middle" fill="#fff"><tspan>F1</tspan><tspan font-size="14" dy="5.4" dx="0.5">g</tspan></text>
<circle cx="1539.90" cy="378.76" r="10.0" fill="none" stroke="#000" stroke-width="1.0"/>
<ellipse cx="1568.75" cy="397.8" rx="33.6" ry="31.9" fill="#82aece" stroke="#111" stroke-width="1.6"/>
<path d="M1536.94 388.35 L1528.55 388.60 L1532.40 386.70 L1530.67 382.77 Z" fill="#000"/>
<path d="M1547.46 372.16 L1539.81 368.70 L1544.09 368.68 L1544.26 364.40 Z" fill="#000"/>
<text x="1568.75" y="404.70" font-size="20" text-anchor="middle" fill="#fff"><tspan>F2</tspan><tspan font-size="14" dy="5.4" dx="0.5">g</tspan></text>
<circle cx="1725.33" cy="382.42" r="10.0" fill="none" stroke="#000" stroke-width="1.0"/>
<ellipse cx="1756.25" cy="397.8" rx="33.6" ry="31.9" fill="#64ae96" stroke="#111" stroke-width="1.6"/>
<path d="M1723.56 392.30 L1715.26 393.56 L1718.85 391.21 L1716.66 387.52 Z" fill="#000"/>
<path d="M1732.03 374.94 L1724.01 372.45 L1728.27 371.90 L1727.91 367.63 Z" fill="#000"/>
<text x="1756.25" y="404.70" font-size="20" text-anchor="middle" fill="#fff"><tspan>F3</tspan><tspan font-size="14" dy="5.4" dx="0.5">g</tspan></text>
<circle cx="1919.41" cy="382.82" r="10.0" fill="none" stroke="#000" stroke-width="1.0"/>
<ellipse cx="1949.5" cy="399.8" rx="33.6" ry="31.9" fill="#d98643" stroke="#111" stroke-width="1.6"/>
<path d="M1917.13 392.59 L1908.78 393.42 L1912.48 391.26 L1910.49 387.46 Z" fill="#000"/>
<path d="M1926.49 375.71 L1918.62 372.79 L1922.89 372.47 L1922.76 368.18 Z" fill="#000"/>
<text x="1949.50" y="406.70" font-size="20" text-anchor="middle" fill="#fff"><tspan>F4</tspan><tspan font-size="14" dy="5.4" dx="0.5">g</tspan></text>
<circle cx="2175.38" cy="381.35" r="10.0" fill="none" stroke="#000" stroke-width="1.0"/>
<ellipse cx="2205.75" cy="397.8" rx="33.6" ry="31.9" fill="#4a6a86" stroke="#111" stroke-width="1.6"/>
<path d="M2173.26 391.16 L2164.93 392.13 L2168.59 389.91 L2166.53 386.14 Z" fill="#000"/>
<path d="M2182.33 374.11 L2174.41 371.34 L2178.68 370.94 L2178.47 366.66 Z" fill="#000"/>
<text x="2205.75" y="404.70" font-size="20" text-anchor="middle" fill="#fff"><tspan>F5</tspan><tspan font-size="14" dy="5.4" dx="0.5">g</tspan></text>
<text x="1326.50" y="379.00" font-size="19.5" text-anchor="middle" fill="#000" >1</text>
<text x="1520.50" y="380.50" font-size="19.5" text-anchor="middle" fill="#000" >1</text>
<text x="1707.00" y="385.00" font-size="19.5" text-anchor="middle" fill="#000" >1</text>
<text x="1902.00" y="385.50" font-size="19.5" text-anchor="middle" fill="#000" >1</text>
<text x="2156.50" y="384.50" font-size="19.5" text-anchor="middle" fill="#000" >1</text>
<circle cx="1297.30" cy="551.40" r="28.3" fill="#8f64aa"/>
<path d="M1297.30 551.40 L1273.43 536.19 A28.3 28.3 0 0 1 1321.68 537.04 Z" fill="#b4934c" />
<line x1="1297.30" y1="551.40" x2="1321.68" y2="537.04" stroke="#aaa4a4" stroke-width="1.6"/>
<line x1="1297.30" y1="551.40" x2="1273.43" y2="536.19" stroke="#aaa4a4" stroke-width="1.6"/>
<circle cx="1297.30" cy="551.40" r="28.3" fill="none" stroke="#aaa4a4" stroke-width="1.8"/>
<circle cx="1373.00" cy="549.00" r="28.6" fill="#b4934c"/>
<circle cx="1373.00" cy="549.00" r="28.6" fill="none" stroke="#aaa4a4" stroke-width="1.8"/>
<line x1="1373.30" y1="552.00" x2="1373.30" y2="577.60" stroke="#aaa4a4" stroke-width="2.6"/>
<circle cx="1443.50" cy="548.30" r="28.5" fill="#8f64aa"/>
<path d="M1443.50 548.30 L1443.50 519.80 A28.5 28.5 0 0 1 1455.54 522.47 Z" fill="#b4934c" />
<path d="M1443.50 548.30 L1455.54 522.47 A28.5 28.5 0 0 1 1458.18 523.87 Z" fill="#b9b4b4" />
<path d="M1443.50 548.30 L1458.18 523.87 A28.5 28.5 0 0 1 1461.05 525.84 Z" fill="#6fc2a4" />
<path d="M1443.50 548.30 L1461.05 525.84 A28.5 28.5 0 0 1 1462.94 527.46 Z" fill="#b9b4b4" />
<path d="M1443.50 548.30 L1462.94 527.46 A28.5 28.5 0 0 1 1464.34 528.86 Z" fill="#c9934a" />
<path d="M1443.50 548.30 L1464.34 528.86 A28.5 28.5 0 0 1 1465.65 530.36 Z" fill="#b9b4b4" />
<line x1="1443.50" y1="548.30" x2="1443.50" y2="519.80" stroke="#aaa4a4" stroke-width="1.2"/>
<line x1="1443.50" y1="548.30" x2="1461.05" y2="525.84" stroke="#aaa4a4" stroke-width="1.2"/>
<line x1="1443.50" y1="548.30" x2="1462.94" y2="527.46" stroke="#aaa4a4" stroke-width="1.2"/>
<line x1="1443.50" y1="548.30" x2="1464.34" y2="528.86" stroke="#aaa4a4" stroke-width="1.2"/>
<line x1="1443.50" y1="548.30" x2="1465.65" y2="530.36" stroke="#aaa4a4" stroke-width="1.2"/>
<line x1="1443.50" y1="548.30" x2="1455.54" y2="522.47" stroke="#aaa4a4" stroke-width="1.2"/>
<line x1="1443.50" y1="548.30" x2="1458.18" y2="523.87" stroke="#aaa4a4" stroke-width="1.2"/>
<circle cx="1443.50" cy="548.30" r="28.5" fill="none" stroke="#aaa4a4" stroke-width="1.8"/>
<circle cx="1516.20" cy="550.70" r="29" fill="#82aece"/>
<path d="M1516.20 550.70 L1540.10 567.13 A29 29 0 0 1 1491.61 566.07 Z" fill="#8f64aa" />
<line x1="1516.20" y1="550.70" x2="1540.10" y2="567.13" stroke="#aaa4a4" stroke-width="1.6"/>
<line x1="1516.20" y1="550.70" x2="1491.61" y2="566.07" stroke="#aaa4a4" stroke-width="1.6"/>
<circle cx="1516.20" cy="550.70" r="29" fill="none" stroke="#aaa4a4" stroke-width="1.8"/>
<circle cx="1615.70" cy="550.00" r="29.2" fill="#82aece"/>
<path d="M1615.70 550.00 L1640.19 565.90 A29.2 29.2 0 0 1 1591.35 566.12 Z" fill="#8f64aa" />
<line x1="1615.70" y1="550.00" x2="1640.19" y2="565.90" stroke="#aaa4a4" stroke-width="1.6"/>
<line x1="1615.70" y1="550.00" x2="1591.35" y2="566.12" stroke="#aaa4a4" stroke-width="1.6"/>
<circle cx="1615.70" cy="550.00" r="29.2" fill="none" stroke="#aaa4a4" stroke-width="1.8"/>
<circle cx="1695.70" cy="549.40" r="30.8" fill="#64ae96"/>
<path d="M1695.70 549.40 L1725.78 542.79 A30.8 30.8 0 1 1 1665.00 546.88 Z" fill="#8f64aa" />
<line x1="1695.70" y1="549.40" x2="1665.00" y2="546.88" stroke="#aaa4a4" stroke-width="1.6"/>
<line x1="1695.70" y1="549.40" x2="1725.78" y2="542.79" stroke="#aaa4a4" stroke-width="1.6"/>
<circle cx="1695.70" cy="549.40" r="30.8" fill="none" stroke="#aaa4a4" stroke-width="1.8"/>
<circle cx="1796.60" cy="549.80" r="30.0" fill="#64ae96"/>
<path d="M1796.60 549.80 L1797.65 519.82 A30.0 30.0 0 0 1 1826.60 549.28 Z" fill="#4a6a86" />
<path d="M1796.60 549.80 L1826.60 549.28 A30.0 30.0 0 0 1 1823.56 562.95 Z" fill="url(#hatchG)" />
<path d="M1796.60 549.80 L1823.56 562.95 A30.0 30.0 0 0 1 1771.16 565.70 Z" fill="#8f64aa" />
<line x1="1796.60" y1="549.80" x2="1826.60" y2="549.28" stroke="#aaa4a4" stroke-width="1.6"/>
<line x1="1796.60" y1="549.80" x2="1797.65" y2="519.82" stroke="#aaa4a4" stroke-width="1.6"/>
<line x1="1796.60" y1="549.80" x2="1823.56" y2="562.95" stroke="#aaa4a4" stroke-width="1.6"/>
<line x1="1796.60" y1="549.80" x2="1771.16" y2="565.70" stroke="#aaa4a4" stroke-width="1.6"/>
<circle cx="1796.60" cy="549.80" r="30.0" fill="none" stroke="#aaa4a4" stroke-width="1.8"/>
<circle cx="1873.70" cy="549.00" r="31.0" fill="#d98643"/>
<circle cx="1873.70" cy="549.00" r="31.0" fill="none" stroke="#aaa4a4" stroke-width="1.8"/>
<line x1="1874.00" y1="554.00" x2="1874.00" y2="580.00" stroke="#aaa4a4" stroke-width="2.6"/>
<circle cx="1947.80" cy="549.40" r="30.3" fill="#d98643"/>
<path d="M1947.80 549.40 L1954.62 578.92 A30.3 30.3 0 0 1 1943.06 579.33 Z" fill="#8f64aa" />
<line x1="1947.80" y1="549.40" x2="1943.06" y2="579.33" stroke="#aaa4a4" stroke-width="1.6"/>
<line x1="1947.80" y1="549.40" x2="1954.62" y2="578.92" stroke="#aaa4a4" stroke-width="1.6"/>
<circle cx="1947.80" cy="549.40" r="30.3" fill="none" stroke="#aaa4a4" stroke-width="1.8"/>
<circle cx="2017.90" cy="550.00" r="27.8" fill="#d98643"/>
<path d="M2017.90 550.00 L2033.85 572.77 A27.8 27.8 0 0 1 2002.35 573.05 Z" fill="#a683be" />
<path d="M2017.90 550.00 L2002.35 573.05 A27.8 27.8 0 0 1 1990.31 546.61 Z" fill="url(#hatchO)" />
<path d="M2017.90 550.00 L1990.31 546.61 A27.8 27.8 0 0 1 1996.92 531.76 Z" fill="#d0a867" />
<line x1="2017.90" y1="550.00" x2="2033.85" y2="572.77" stroke="#aaa4a4" stroke-width="1.6"/>
<line x1="2017.90" y1="550.00" x2="1990.31" y2="546.61" stroke="#aaa4a4" stroke-width="1.6"/>
<line x1="2017.90" y1="550.00" x2="2002.35" y2="573.05" stroke="#aaa4a4" stroke-width="1.6"/>
<line x1="2017.90" y1="550.00" x2="1996.92" y2="531.76" stroke="#aaa4a4" stroke-width="1.6"/>
<circle cx="2017.90" cy="550.00" r="27.8" fill="none" stroke="#aaa4a4" stroke-width="1.8"/>
<circle cx="2089.80" cy="550.40" r="29.0" fill="#4a6a86"/>
<path d="M2089.80 550.40 L2117.22 559.84 A29.0 29.0 0 0 1 2063.96 563.57 Z" fill="#8f64aa" />
<line x1="2089.80" y1="550.40" x2="2063.96" y2="563.57" stroke="#aaa4a4" stroke-width="1.6"/>
<line x1="2089.80" y1="550.40" x2="2117.22" y2="559.84" stroke="#aaa4a4" stroke-width="1.6"/>
<circle cx="2089.80" cy="550.40" r="29.0" fill="none" stroke="#aaa4a4" stroke-width="1.8"/>
<circle cx="2159.70" cy="550.60" r="29.2" fill="#4a6a86"/>
<path d="M2159.70 550.60 L2187.39 559.87 A29.2 29.2 0 0 1 2133.46 563.40 Z" fill="#8f64aa" />
<line x1="2159.70" y1="550.60" x2="2187.39" y2="559.87" stroke="#aaa4a4" stroke-width="1.6"/>
<line x1="2159.70" y1="550.60" x2="2133.46" y2="563.40" stroke="#aaa4a4" stroke-width="1.6"/>
<circle cx="2159.70" cy="550.60" r="29.2" fill="none" stroke="#aaa4a4" stroke-width="1.8"/>
<circle cx="2231.80" cy="549.80" r="29.0" fill="#4a6a86"/>
<path d="M2231.80 549.80 L2260.27 544.27 A29.0 29.0 0 1 1 2202.80 549.45 Z" fill="#8f64aa" />
<line x1="2231.80" y1="549.80" x2="2202.80" y2="549.45" stroke="#aaa4a4" stroke-width="1.6"/>
<line x1="2231.80" y1="549.80" x2="2260.27" y2="544.27" stroke="#aaa4a4" stroke-width="1.6"/>
<circle cx="2231.80" cy="549.80" r="29.0" fill="none" stroke="#aaa4a4" stroke-width="1.8"/>
<circle cx="2302.50" cy="550.60" r="29.3" fill="#4a6a86"/>
<path d="M2302.50 550.60 L2323.22 571.32 A29.3 29.3 0 0 1 2284.87 574.00 Z" fill="#8f64aa" />
<line x1="2302.50" y1="550.60" x2="2284.87" y2="574.00" stroke="#aaa4a4" stroke-width="1.6"/>
<line x1="2302.50" y1="550.60" x2="2323.22" y2="571.32" stroke="#aaa4a4" stroke-width="1.6"/>
<circle cx="2302.50" cy="550.60" r="29.3" fill="none" stroke="#aaa4a4" stroke-width="1.8"/>
<text x="1298.30" y="559.00" font-size="16.5" text-anchor="middle" fill="#fff"><tspan>AN</tspan><tspan font-size="11.6" dy="4.4" dx="0.3">g</tspan></text>
<text x="1374.00" y="559.00" font-size="16.5" text-anchor="middle" fill="#fff"><tspan>OCD</tspan><tspan font-size="11.6" dy="4.4" dx="0.3">g</tspan></text>
<text x="1444.50" y="559.00" font-size="16.5" text-anchor="middle" fill="#fff"><tspan>TS</tspan><tspan font-size="11.6" dy="4.4" dx="0.3">g</tspan></text>
<text x="1517.20" y="559.00" font-size="16.5" text-anchor="middle" fill="#fff"><tspan>SCZ</tspan><tspan font-size="11.6" dy="4.4" dx="0.3">g</tspan></text>
<text x="1616.70" y="559.00" font-size="16.5" text-anchor="middle" fill="#fff"><tspan>BIP</tspan><tspan font-size="11.6" dy="4.4" dx="0.3">g</tspan></text>
<text x="1696.70" y="559.00" font-size="16.5" text-anchor="middle" fill="#fff"><tspan>ASD</tspan><tspan font-size="11.6" dy="4.4" dx="0.3">g</tspan></text>
<text x="1797.60" y="559.00" font-size="16.5" text-anchor="middle" fill="#fff"><tspan>ADHD</tspan><tspan font-size="11.6" dy="4.4" dx="0.3">g</tspan></text>
<text x="1874.70" y="559.00" font-size="16.5" text-anchor="middle" fill="#fff"><tspan>PTSD</tspan><tspan font-size="11.6" dy="4.4" dx="0.3">g</tspan></text>
<text x="1948.80" y="559.00" font-size="16.5" text-anchor="middle" fill="#fff"><tspan>MD</tspan><tspan font-size="11.6" dy="4.4" dx="0.3">g</tspan></text>
<text x="2018.90" y="559.00" font-size="16.5" text-anchor="middle" fill="#fff"><tspan>ANX</tspan><tspan font-size="11.6" dy="4.4" dx="0.3">g</tspan></text>
<text x="2090.80" y="559.00" font-size="16.5" text-anchor="middle" fill="#fff"><tspan>CUD</tspan><tspan font-size="11.6" dy="4.4" dx="0.3">g</tspan></text>
<text x="2160.70" y="559.00" font-size="16.5" text-anchor="middle" fill="#fff"><tspan>AUD</tspan><tspan font-size="11.6" dy="4.4" dx="0.3">g</tspan></text>
<text x="2303.50" y="559.00" font-size="16.5" text-anchor="middle" fill="#fff"><tspan>OUD</tspan><tspan font-size="11.6" dy="4.4" dx="0.3">g</tspan></text>
<text x="2232.80" y="559.00" font-size="16.5" text-anchor="middle" fill="#fff"><tspan>NIC</tspan><tspan font-size="11.6" dy="4.4" dx="0.3">g</tspan></text>
<ellipse cx="1296.40" cy="618.90" rx="20.2" ry="18.2" fill="#a07fba" stroke="#1a1a1a" stroke-width="1.5"/>
<text x="1285.10" y="620.40" font-size="17" fill="#fff"><tspan font-style="italic">u</tspan><tspan font-size="10.0" dy="4.3" dx="0.6">AN</tspan></text>
<path d="M1287.00 639.60 Q1296.40 653.10 1305.80 639.60" fill="none" stroke="#000" stroke-width="1.0"/>
<path d="M1286.20 636.30 L1291.59 640.68 L1288.61 640.82 L1286.83 643.22 Z" fill="#000"/>
<path d="M1306.60 636.30 L1305.97 643.22 L1304.19 640.82 L1301.21 640.68 Z" fill="#000"/>
<ellipse cx="1373.80" cy="618.90" rx="20.2" ry="18.2" fill="#a07fba" stroke="#1a1a1a" stroke-width="1.5"/>
<text x="1359.60" y="620.40" font-size="17" fill="#fff"><tspan font-style="italic">u</tspan><tspan font-size="10.0" dy="4.3" dx="0.6">OCD</tspan></text>
<path d="M1364.40 639.60 Q1373.80 653.10 1383.20 639.60" fill="none" stroke="#000" stroke-width="1.0"/>
<path d="M1363.60 636.30 L1368.99 640.68 L1366.01 640.82 L1364.23 643.22 Z" fill="#000"/>
<path d="M1384.00 636.30 L1383.37 643.22 L1381.59 640.82 L1378.61 640.68 Z" fill="#000"/>
<ellipse cx="1443.80" cy="619.50" rx="20.2" ry="18.2" fill="#a07fba" stroke="#1a1a1a" stroke-width="1.5"/>
<text x="1432.50" y="621.00" font-size="17" fill="#fff"><tspan font-style="italic">u</tspan><tspan font-size="10.0" dy="4.3" dx="0.6">TS</tspan></text>
<path d="M1434.40 640.20 Q1443.80 653.70 1453.20 640.20" fill="none" stroke="#000" stroke-width="1.0"/>
<path d="M1433.60 636.90 L1438.99 641.28 L1436.01 641.42 L1434.23 643.82 Z" fill="#000"/>
<path d="M1454.00 636.90 L1453.37 643.82 L1451.59 641.42 L1448.61 641.28 Z" fill="#000"/>
<ellipse cx="1516.30" cy="620.00" rx="20.2" ry="18.2" fill="#a07fba" stroke="#1a1a1a" stroke-width="1.5"/>
<text x="1502.10" y="621.50" font-size="17" fill="#fff"><tspan font-style="italic">u</tspan><tspan font-size="10.0" dy="4.3" dx="0.6">SCZ</tspan></text>
<path d="M1506.90 640.70 Q1516.30 654.20 1525.70 640.70" fill="none" stroke="#000" stroke-width="1.0"/>
<path d="M1506.10 637.40 L1511.49 641.78 L1508.51 641.92 L1506.73 644.32 Z" fill="#000"/>
<path d="M1526.50 637.40 L1525.87 644.32 L1524.09 641.92 L1521.11 641.78 Z" fill="#000"/>
<ellipse cx="1614.80" cy="620.00" rx="20.2" ry="18.2" fill="#a07fba" stroke="#1a1a1a" stroke-width="1.5"/>
<text x="1600.60" y="621.50" font-size="17" fill="#fff"><tspan font-style="italic">u</tspan><tspan font-size="10.0" dy="4.3" dx="0.6">BIP</tspan></text>
<path d="M1605.40 640.70 Q1614.80 654.20 1624.20 640.70" fill="none" stroke="#000" stroke-width="1.0"/>
<path d="M1604.60 637.40 L1609.99 641.78 L1607.01 641.92 L1605.23 644.32 Z" fill="#000"/>
<path d="M1625.00 637.40 L1624.37 644.32 L1622.59 641.92 L1619.61 641.78 Z" fill="#000"/>
<ellipse cx="1695.80" cy="620.00" rx="20.2" ry="18.2" fill="#a07fba" stroke="#1a1a1a" stroke-width="1.5"/>
<text x="1681.60" y="621.50" font-size="17" fill="#fff"><tspan font-style="italic">u</tspan><tspan font-size="10.0" dy="4.3" dx="0.6">ASD</tspan></text>
<path d="M1686.40 640.70 Q1695.80 654.20 1705.20 640.70" fill="none" stroke="#000" stroke-width="1.0"/>
<path d="M1685.60 637.40 L1690.99 641.78 L1688.01 641.92 L1686.23 644.32 Z" fill="#000"/>
<path d="M1706.00 637.40 L1705.37 644.32 L1703.59 641.92 L1700.61 641.78 Z" fill="#000"/>
<ellipse cx="1797.50" cy="620.00" rx="20.2" ry="18.2" fill="#a07fba" stroke="#1a1a1a" stroke-width="1.5"/>
<text x="1778.60" y="621.50" font-size="17" fill="#fff"><tspan font-style="italic">u</tspan><tspan font-size="9.5" dy="4.3" dx="0.6">ADHD</tspan></text>
<path d="M1788.10 640.70 Q1797.50 654.20 1806.90 640.70" fill="none" stroke="#000" stroke-width="1.0"/>
<path d="M1787.30 637.40 L1792.69 641.78 L1789.71 641.92 L1787.93 644.32 Z" fill="#000"/>
<path d="M1807.70 637.40 L1807.07 644.32 L1805.29 641.92 L1802.31 641.78 Z" fill="#000"/>
<ellipse cx="1874.60" cy="620.00" rx="20.2" ry="18.2" fill="#a07fba" stroke="#1a1a1a" stroke-width="1.5"/>
<text x="1855.70" y="621.50" font-size="17" fill="#fff"><tspan font-style="italic">u</tspan><tspan font-size="9.5" dy="4.3" dx="0.6">PTSD</tspan></text>
<path d="M1865.20 640.70 Q1874.60 654.20 1884.00 640.70" fill="none" stroke="#000" stroke-width="1.0"/>
<path d="M1864.40 637.40 L1869.79 641.78 L1866.81 641.92 L1865.03 644.32 Z" fill="#000"/>
<path d="M1884.80 637.40 L1884.17 644.32 L1882.39 641.92 L1879.41 641.78 Z" fill="#000"/>
<ellipse cx="1949.60" cy="619.60" rx="20.2" ry="18.2" fill="#a07fba" stroke="#1a1a1a" stroke-width="1.5"/>
<text x="1935.40" y="621.10" font-size="17" fill="#fff"><tspan font-style="italic">u</tspan><tspan font-size="10.0" dy="4.3" dx="0.6">MDD</tspan></text>
<path d="M1940.20 640.30 Q1949.60 653.80 1959.00 640.30" fill="none" stroke="#000" stroke-width="1.0"/>
<path d="M1939.40 637.00 L1944.79 641.38 L1941.81 641.52 L1940.03 643.92 Z" fill="#000"/>
<path d="M1959.80 637.00 L1959.17 643.92 L1957.39 641.52 L1954.41 641.38 Z" fill="#000"/>
<ellipse cx="2018.80" cy="620.00" rx="20.2" ry="18.2" fill="#a07fba" stroke="#1a1a1a" stroke-width="1.5"/>
<text x="2004.60" y="621.50" font-size="17" fill="#fff"><tspan font-style="italic">u</tspan><tspan font-size="10.0" dy="4.3" dx="0.6">ANX</tspan></text>
<path d="M2009.40 640.70 Q2018.80 654.20 2028.20 640.70" fill="none" stroke="#000" stroke-width="1.0"/>
<path d="M2008.60 637.40 L2013.99 641.78 L2011.01 641.92 L2009.23 644.32 Z" fill="#000"/>
<path d="M2029.00 637.40 L2028.37 644.32 L2026.59 641.92 L2023.61 641.78 Z" fill="#000"/>
<ellipse cx="2090.80" cy="620.00" rx="20.2" ry="18.2" fill="#a07fba" stroke="#1a1a1a" stroke-width="1.5"/>
<text x="2076.60" y="621.50" font-size="17" fill="#fff"><tspan font-style="italic">u</tspan><tspan font-size="10.0" dy="4.3" dx="0.6">CUD</tspan></text>
<path d="M2081.40 640.70 Q2090.80 654.20 2100.20 640.70" fill="none" stroke="#000" stroke-width="1.0"/>
<path d="M2080.60 637.40 L2085.99 641.78 L2083.01 641.92 L2081.23 644.32 Z" fill="#000"/>
<path d="M2101.00 637.40 L2100.37 644.32 L2098.59 641.92 L2095.61 641.78 Z" fill="#000"/>
<ellipse cx="2162.20" cy="620.00" rx="20.2" ry="18.2" fill="#a07fba" stroke="#1a1a1a" stroke-width="1.5"/>
<text x="2148.00" y="621.50" font-size="17" fill="#fff"><tspan font-style="italic">u</tspan><tspan font-size="10.0" dy="4.3" dx="0.6">AUD</tspan></text>
<path d="M2152.80 640.70 Q2162.20 654.20 2171.60 640.70" fill="none" stroke="#000" stroke-width="1.0"/>
<path d="M2152.00 637.40 L2157.39 641.78 L2154.41 641.92 L2152.63 644.32 Z" fill="#000"/>
<path d="M2172.40 637.40 L2171.77 644.32 L2169.99 641.92 L2167.01 641.78 Z" fill="#000"/>
<ellipse cx="2303.30" cy="620.00" rx="20.2" ry="18.2" fill="#a07fba" stroke="#1a1a1a" stroke-width="1.5"/>
<text x="2289.10" y="621.50" font-size="17" fill="#fff"><tspan font-style="italic">u</tspan><tspan font-size="10.0" dy="4.3" dx="0.6">OUD</tspan></text>
<path d="M2293.90 640.70 Q2303.30 654.20 2312.70 640.70" fill="none" stroke="#000" stroke-width="1.0"/>
<path d="M2293.10 637.40 L2298.49 641.78 L2295.51 641.92 L2293.73 644.32 Z" fill="#000"/>
<path d="M2313.50 637.40 L2312.87 644.32 L2311.09 641.92 L2308.11 641.78 Z" fill="#000"/>
<ellipse cx="2233.80" cy="620.00" rx="20.2" ry="18.2" fill="#a07fba" stroke="#1a1a1a" stroke-width="1.5"/>
<text x="2219.60" y="621.50" font-size="17" fill="#fff"><tspan font-style="italic">u</tspan><tspan font-size="10.0" dy="4.3" dx="0.6">NIC</tspan></text>
<path d="M2224.40 640.70 Q2233.80 654.20 2243.20 640.70" fill="none" stroke="#000" stroke-width="1.0"/>
<path d="M2223.60 637.40 L2228.99 641.78 L2226.01 641.92 L2224.23 644.32 Z" fill="#000"/>
<path d="M2244.00 637.40 L2243.37 644.32 L2241.59 641.92 L2238.61 641.78 Z" fill="#000"/>
<text x="1304.80" y="598.20" font-size="19.5" text-anchor="middle" fill="#000" >1</text>
<text x="1382.00" y="597.00" font-size="19.5" text-anchor="middle" fill="#000" >1</text>
<text x="1453.30" y="599.00" font-size="19.5" text-anchor="middle" fill="#000" >1</text>
<text x="1525.00" y="599.00" font-size="19.5" text-anchor="middle" fill="#000" >1</text>
<text x="1623.50" y="600.00" font-size="19.5" text-anchor="middle" fill="#000" >1</text>
<text x="1704.80" y="599.00" font-size="19.5" text-anchor="middle" fill="#000" >1</text>
<text x="1806.50" y="599.00" font-size="19.5" text-anchor="middle" fill="#000" >1</text>
<text x="1881.30" y="598.90" font-size="15" text-anchor="middle" fill="#000" >1</text>
<text x="1957.50" y="598.90" font-size="15" text-anchor="middle" fill="#000" >1</text>
<text x="2026.30" y="599.90" font-size="15" text-anchor="middle" fill="#000" >1</text>
<text x="2098.30" y="599.40" font-size="15" text-anchor="middle" fill="#000" >1</text>
<text x="2170.00" y="598.40" font-size="15" text-anchor="middle" fill="#000" >1</text>
<text x="2241.50" y="598.40" font-size="15" text-anchor="middle" fill="#000" >1</text>
<text x="2310.30" y="599.90" font-size="15" text-anchor="middle" fill="#000" >1</text>
<rect x="1421.91" y="336.50" width="108.17" height="21" fill="#fff"/>
<rect x="1494.66" y="304.00" width="108.17" height="21" fill="#fff"/>
<rect x="1598.41" y="259.00" width="108.17" height="21" fill="#fff"/>
<rect x="1737.91" y="225.00" width="108.17" height="21" fill="#fff"/>
<rect x="1611.41" y="338.50" width="108.17" height="21" fill="#fff"/>
<rect x="1716.91" y="303.50" width="108.17" height="21" fill="#fff"/>
<rect x="1867.91" y="261.50" width="108.17" height="21" fill="#fff"/>
<rect x="1813.41" y="337.00" width="108.17" height="21" fill="#fff"/>
<rect x="1940.41" y="306.00" width="108.17" height="21" fill="#fff"/>
<rect x="2033.41" y="335.00" width="108.17" height="21" fill="#fff"/>
<text x="1476.00" y="354.77" font-size="20.3" text-anchor="middle" fill="#000" >0.42 (0.03)</text>
<text x="1548.75" y="322.27" font-size="20.3" text-anchor="middle" fill="#000" >0.27 (0.05)</text>
<text x="1652.50" y="277.27" font-size="20.3" text-anchor="middle" fill="#000" >0.47 (0.03)</text>
<text x="1792.00" y="243.27" font-size="20.3" text-anchor="middle" fill="#000" >0.20 (0.03)</text>
<text x="1665.50" y="356.77" font-size="20.3" text-anchor="middle" fill="#000" >0.20 (0.04)</text>
<text x="1771.00" y="321.77" font-size="20.3" text-anchor="middle" fill="#000" >0.52 (0.02)</text>
<text x="1922.00" y="279.77" font-size="20.3" text-anchor="middle" fill="#000" >0.44 (0.03)</text>
<text x="1867.50" y="355.27" font-size="20.3" text-anchor="middle" fill="#000" >0.55 (0.05)</text>
<text x="1994.50" y="324.27" font-size="20.3" text-anchor="middle" fill="#000" >0.12 (0.07)</text>
<text x="2087.50" y="353.27" font-size="20.3" text-anchor="middle" fill="#000" >0.60 (0.02)</text>
<rect x="1266.91" y="447.50" width="101.17" height="32.5" fill="#fff"/>
<rect x="1384.91" y="447.50" width="101.17" height="32.5" fill="#fff"/>
<rect x="1320.41" y="477.50" width="93.67" height="32.5" fill="#fff"/>
<rect x="1450.71" y="427.50" width="101.17" height="25.5" fill="#fff"/>
<rect x="1475.41" y="465.00" width="101.17" height="32.5" fill="#fff"/>
<rect x="1575.41" y="465.00" width="101.17" height="32.5" fill="#fff"/>
<rect x="1632.91" y="433.50" width="101.17" height="32.5" fill="#fff"/>
<rect x="1655.91" y="476.00" width="101.17" height="32.5" fill="#fff"/>
<rect x="1749.41" y="476.00" width="101.17" height="32.5" fill="#fff"/>
<rect x="1843.41" y="442.00" width="101.17" height="32.5" fill="#fff"/>
<rect x="1955.91" y="440.00" width="131.67" height="32.5" fill="#fff"/>
<rect x="1908.91" y="475.00" width="101.17" height="32.5" fill="#fff"/>
<rect x="2038.11" y="418.50" width="101.17" height="27" fill="#fff"/>
<rect x="2112.41" y="447.50" width="85.67" height="32.5" fill="#fff"/>
<rect x="2222.41" y="440.50" width="108.67" height="32.5" fill="#fff"/>
<rect x="2113.71" y="477.50" width="101.17" height="32.5" fill="#fff"/>
<rect x="2219.41" y="477.50" width="101.17" height="32.5" fill="#fff"/>
<text x="1317.50" y="472.27" font-size="20.3" text-anchor="middle" fill="#000" >0.56 (0.04)</text>
<text x="1435.50" y="472.27" font-size="20.3" text-anchor="middle" fill="#000" >0.27 (0.05)</text>
<text x="1371.00" y="504.27" font-size="20.3" text-anchor="middle" fill="#000" >0.99 (0.05)</text>
<text x="1501.30" y="448.77" font-size="20.3" text-anchor="middle" fill="#000" >0.28 (0.03)</text>
<text x="1526.00" y="489.77" font-size="20.3" text-anchor="middle" fill="#000" >0.82 (0.03)</text>
<text x="1626.00" y="489.77" font-size="20.3" text-anchor="middle" fill="#000" >0.82 (0.02)</text>
<text x="1683.50" y="458.27" font-size="20.3" text-anchor="middle" fill="#000" >0.18 (0.06)</text>
<text x="1706.50" y="500.77" font-size="20.3" text-anchor="middle" fill="#000" >0.67 (0.06)</text>
<text x="1800.00" y="500.77" font-size="20.3" text-anchor="middle" fill="#000" >0.59 (0.05)</text>
<text x="1894.00" y="466.77" font-size="20.3" text-anchor="middle" fill="#000" >0.99 (0.02)</text>
<text x="2006.50" y="464.77" font-size="20.3" text-anchor="middle" fill="#000" >0.74 (0.03)</text>
<text x="1959.50" y="499.77" font-size="20.3" text-anchor="middle" fill="#000" >0.97 (0.02)</text>
<text x="2088.70" y="437.77" font-size="20.3" text-anchor="middle" fill="#000" >0.49 (0.05)</text>
<text x="2147.50" y="472.27" font-size="20.3" text-anchor="middle" fill="#000" >0.79 (0.04)</text>
<text x="2280.50" y="465.27" font-size="20.3" text-anchor="middle" fill="#000" >0.89 (0.05)</text>
<text x="2164.30" y="502.27" font-size="20.3" text-anchor="middle" fill="#000" >0.80 (0.03)</text>
<text x="2270.00" y="502.27" font-size="20.3" text-anchor="middle" fill="#000" >0.69 (0.04)</text>
<line x1="1660" y1="470.7" x2="1717.5" y2="478.7" stroke="#000" stroke-width="1.75"/>
<text x="1298.00" y="667.60" font-size="20.5" text-anchor="middle" fill="#000" >0.68</text>
<text x="1298.00" y="692.80" font-size="20.5" text-anchor="middle" fill="#000" >(0.06)</text>
<text x="1376.50" y="667.60" font-size="20.5" text-anchor="middle" fill="#000" >&lt;0.01</text>
<text x="1376.50" y="692.80" font-size="20.5" text-anchor="middle" fill="#000" >(0.11)</text>
<text x="1454.00" y="667.60" font-size="20.5" text-anchor="middle" fill="#000" >0.87</text>
<text x="1454.00" y="692.80" font-size="20.5" text-anchor="middle" fill="#000" >(0.11)</text>
<text x="1520.80" y="667.60" font-size="20.5" text-anchor="middle" fill="#000" >0.32</text>
<text x="1520.80" y="692.80" font-size="20.5" text-anchor="middle" fill="#000" >(0.04)</text>
<text x="1619.00" y="667.60" font-size="20.5" text-anchor="middle" fill="#000" >0.32</text>
<text x="1619.00" y="692.80" font-size="20.5" text-anchor="middle" fill="#000" >(0.04)</text>
<text x="1699.50" y="667.60" font-size="20.5" text-anchor="middle" fill="#000" >0.55</text>
<text x="1699.50" y="692.80" font-size="20.5" text-anchor="middle" fill="#000" >(0.10)</text>
<text x="1800.00" y="667.60" font-size="20.5" text-anchor="middle" fill="#000" >0.35</text>
<text x="1800.00" y="692.80" font-size="20.5" text-anchor="middle" fill="#000" >(0.06)</text>
<text x="1874.50" y="667.60" font-size="20.5" text-anchor="middle" fill="#000" >&lt;0.01</text>
<text x="1874.50" y="692.80" font-size="20.5" text-anchor="middle" fill="#000" >(0.03)</text>
<text x="1948.30" y="667.60" font-size="20.5" text-anchor="middle" fill="#000" >0.06</text>
<text x="1948.30" y="692.80" font-size="20.5" text-anchor="middle" fill="#000" >(0.03)</text>
<text x="2021.00" y="667.60" font-size="20.5" text-anchor="middle" fill="#000" >0.17</text>
<text x="2021.00" y="692.80" font-size="20.5" text-anchor="middle" fill="#000" >(0.04)</text>
<text x="2092.30" y="667.60" font-size="20.5" text-anchor="middle" fill="#000" >0.37</text>
<text x="2092.30" y="692.80" font-size="20.5" text-anchor="middle" fill="#000" >(0.10)</text>
<text x="2163.30" y="667.60" font-size="20.5" text-anchor="middle" fill="#000" >0.36</text>
<text x="2163.30" y="692.80" font-size="20.5" text-anchor="middle" fill="#000" >(0.06)</text>
<text x="2234.50" y="667.60" font-size="20.5" text-anchor="middle" fill="#000" >0.53</text>
<text x="2234.50" y="692.80" font-size="20.5" text-anchor="middle" fill="#000" >(0.14)</text>
<text x="2306.50" y="667.60" font-size="20.5" text-anchor="middle" fill="#000" >0.21</text>
<text x="2306.50" y="692.80" font-size="20.5" text-anchor="middle" fill="#000" >(0.15)</text>
<text x="1372.50" y="728.30" font-size="21.4" text-anchor="middle" fill="#b4934c" stroke="#b4934c" stroke-width="0.3">Compulsive</text>
<text x="1372.50" y="753.30" font-size="21.3" text-anchor="middle" fill="#b4934c" stroke="#b4934c" stroke-width="0.3">disorders</text>
<text x="1569.00" y="728.30" font-size="21.8" text-anchor="middle" fill="#73a7d1" stroke="#73a7d1" stroke-width="0.3">SB</text>
<text x="1757.00" y="728.30" font-size="20.95" text-anchor="middle" fill="#52a78f" stroke="#52a78f" stroke-width="0.3">Neurodevelopmental</text>
<text x="1757.00" y="753.30" font-size="21.3" text-anchor="middle" fill="#52a78f" stroke="#52a78f" stroke-width="0.3">disorders</text>
<text x="1949.00" y="728.30" font-size="20.6" text-anchor="middle" fill="#d98a52" stroke="#d98a52" stroke-width="0.3">Internalizing</text>
<text x="1949.50" y="753.30" font-size="21.3" text-anchor="middle" fill="#d98a52" stroke="#d98a52" stroke-width="0.3">disorders</text>
<text x="2205.80" y="728.30" font-size="20.4" text-anchor="middle" fill="#4d7699" stroke="#4d7699" stroke-width="0.3">SUD</text>
</g>
<g id="panelC" class="hv">
<line x1="1756.25" y1="864.55" x2="1373.00" y2="946.50" stroke="#000" stroke-width="1.75"/>
<path d="M1373.00 946.50 L1379.65 941.75 L1377.55 945.53 L1381.01 948.11 Z" fill="#000"/>
<line x1="1756.25" y1="864.55" x2="1567.50" y2="946.50" stroke="#000" stroke-width="1.75"/>
<path d="M1567.50 946.50 L1573.09 940.53 L1571.77 944.65 L1575.67 946.49 Z" fill="#000"/>
<line x1="1756.25" y1="864.55" x2="1756.25" y2="943.50" stroke="#000" stroke-width="1.75"/>
<path d="M1756.25 943.50 L1753.00 936.00 L1756.25 938.85 L1759.50 936.00 Z" fill="#000"/>
<line x1="1756.25" y1="864.55" x2="1947.00" y2="948.00" stroke="#000" stroke-width="1.75"/>
<path d="M1947.00 948.00 L1938.83 947.97 L1942.74 946.14 L1941.43 942.02 Z" fill="#000"/>
<line x1="1756.25" y1="864.55" x2="2199.00" y2="944.00" stroke="#000" stroke-width="1.75"/>
<path d="M2199.00 944.00 L2191.04 945.87 L2194.42 943.18 L2192.19 939.48 Z" fill="#000"/>
<line x1="1373.75" y1="1015.35" x2="1290.30" y2="1110.00" stroke="#000" stroke-width="1.75"/>
<path d="M1290.30 1110.00 L1292.82 1102.22 L1293.38 1106.51 L1297.70 1106.52 Z" fill="#000"/>
<line x1="1373.75" y1="1015.35" x2="1370.00" y2="1106.70" stroke="#000" stroke-width="1.75"/>
<path d="M1370.00 1106.70 L1367.06 1099.07 L1370.19 1102.05 L1373.55 1099.34 Z" fill="#000"/>
<line x1="1373.75" y1="1015.35" x2="1441.30" y2="1105.20" stroke="#000" stroke-width="1.75"/>
<path d="M1441.30 1105.20 L1434.20 1101.16 L1438.51 1101.48 L1439.39 1097.25 Z" fill="#000"/>
<line x1="1373.75" y1="1015.35" x2="2016.30" y2="1108.00" stroke="#000" stroke-width="1.75"/>
<path d="M2016.30 1108.00 L2008.41 1110.15 L2011.70 1107.34 L2009.34 1103.71 Z" fill="#000"/>
<line x1="1567.00" y1="1016.35" x2="1512.50" y2="1104.60" stroke="#000" stroke-width="1.75"/>
<path d="M1512.50 1104.60 L1513.68 1096.51 L1514.94 1100.64 L1519.21 1099.93 Z" fill="#000"/>
<line x1="1567.00" y1="1016.35" x2="1612.60" y2="1106.30" stroke="#000" stroke-width="1.75"/>
<path d="M1612.60 1106.30 L1606.31 1101.08 L1610.50 1102.15 L1612.11 1098.14 Z" fill="#000"/>
<line x1="1756.25" y1="1018.75" x2="1691.20" y2="1107.20" stroke="#000" stroke-width="1.75"/>
<path d="M1691.20 1107.20 L1693.03 1099.23 L1693.95 1103.45 L1698.26 1103.08 Z" fill="#000"/>
<line x1="1756.25" y1="1018.75" x2="1795.00" y2="1108.80" stroke="#000" stroke-width="1.75"/>
<path d="M1795.00 1108.80 L1789.05 1103.20 L1793.16 1104.53 L1795.02 1100.63 Z" fill="#000"/>
<line x1="1947.50" y1="1018.50" x2="1873.80" y2="1103.40" stroke="#000" stroke-width="1.75"/>
<path d="M1873.80 1103.40 L1876.26 1095.61 L1876.85 1099.89 L1881.17 1099.87 Z" fill="#000"/>
<line x1="1947.50" y1="1018.50" x2="1949.50" y2="1105.10" stroke="#000" stroke-width="1.75"/>
<path d="M1949.50 1105.10 L1946.08 1097.68 L1949.39 1100.45 L1952.58 1097.53 Z" fill="#000"/>
<line x1="1947.50" y1="1018.50" x2="2016.30" y2="1108.00" stroke="#000" stroke-width="1.75"/>
<path d="M2016.30 1108.00 L2009.15 1104.03 L2013.47 1104.31 L2014.31 1100.07 Z" fill="#000"/>
<line x1="2203.75" y1="1018.25" x2="1796.30" y2="1108.80" stroke="#000" stroke-width="1.75"/>
<path d="M1796.30 1108.80 L1802.92 1104.00 L1800.84 1107.79 L1804.33 1110.35 Z" fill="#000"/>
<line x1="2203.75" y1="1018.25" x2="2087.50" y2="1106.30" stroke="#000" stroke-width="1.75"/>
<path d="M2087.50 1106.30 L2091.52 1099.18 L2091.21 1103.49 L2095.44 1104.36 Z" fill="#000"/>
<line x1="2203.75" y1="1018.25" x2="2159.50" y2="1104.80" stroke="#000" stroke-width="1.75"/>
<path d="M2159.50 1104.80 L2160.02 1096.64 L2161.62 1100.66 L2165.81 1099.60 Z" fill="#000"/>
<line x1="2203.75" y1="1018.25" x2="2230.00" y2="1105.00" stroke="#000" stroke-width="1.75"/>
<path d="M2230.00 1105.00 L2224.72 1098.76 L2228.65 1100.55 L2230.94 1096.88 Z" fill="#000"/>
<line x1="2203.75" y1="1018.25" x2="2307.00" y2="1106.00" stroke="#000" stroke-width="1.75"/>
<path d="M2307.00 1106.00 L2299.18 1103.62 L2303.46 1102.99 L2303.39 1098.67 Z" fill="#000"/>
<line x1="1722.50" y1="997.00" x2="1442.50" y2="1104.00" stroke="#000" stroke-width="1.75"/>
<path d="M1442.50 1104.00 L1448.35 1098.29 L1446.84 1102.34 L1450.67 1104.36 Z" fill="#000"/>
<line x1="1316.30" y1="977.50" x2="1341.00" y2="986.20" stroke="#000" stroke-width="1.7"/>
<path d="M1341.00 986.20 L1333.94 986.68 L1337.20 984.86 L1335.80 981.40 Z" fill="#000"/>
<line x1="1508.80" y1="979.50" x2="1533.50" y2="988.00" stroke="#000" stroke-width="1.7"/>
<path d="M1533.50 988.00 L1526.44 988.53 L1529.69 986.69 L1528.26 983.24 Z" fill="#000"/>
<line x1="1696.30" y1="972.00" x2="1720.00" y2="980.80" stroke="#000" stroke-width="1.7"/>
<path d="M1720.00 980.80 L1712.93 981.16 L1716.22 979.40 L1714.88 975.91 Z" fill="#000"/>
<line x1="1888.80" y1="972.00" x2="1913.50" y2="980.00" stroke="#000" stroke-width="1.7"/>
<path d="M1913.50 980.00 L1906.45 980.66 L1909.67 978.76 L1908.18 975.33 Z" fill="#000"/>
<line x1="2142.50" y1="976.30" x2="2167.50" y2="985.00" stroke="#000" stroke-width="1.7"/>
<path d="M2167.50 985.00 L2160.44 985.51 L2163.69 983.68 L2162.28 980.22 Z" fill="#000"/>
<line x1="1295.10" y1="1188.30" x2="1295.10" y2="1169.10" stroke="#000" stroke-width="2.3"/>
<path d="M1295.10 1169.10 L1298.50 1176.60 L1295.10 1173.75 L1291.70 1176.60 Z" fill="#000"/>
<line x1="1371.90" y1="1188.30" x2="1371.90" y2="1166.40" stroke="#000" stroke-width="2.3"/>
<path d="M1371.90 1166.40 L1375.30 1173.90 L1371.90 1171.05 L1368.50 1173.90 Z" fill="#000"/>
<line x1="1443.10" y1="1188.80" x2="1443.10" y2="1165.30" stroke="#000" stroke-width="2.3"/>
<path d="M1443.10 1165.30 L1446.50 1172.80 L1443.10 1169.95 L1439.70 1172.80 Z" fill="#000"/>
<line x1="1515.60" y1="1188.80" x2="1515.60" y2="1165.90" stroke="#000" stroke-width="2.3"/>
<path d="M1515.60 1165.90 L1519.00 1173.40 L1515.60 1170.55 L1512.20 1173.40 Z" fill="#000"/>
<line x1="1613.90" y1="1189.30" x2="1613.90" y2="1167.80" stroke="#000" stroke-width="2.3"/>
<path d="M1613.90 1167.80 L1617.30 1175.30 L1613.90 1172.45 L1610.50 1175.30 Z" fill="#000"/>
<line x1="1694.90" y1="1189.30" x2="1694.90" y2="1170.90" stroke="#000" stroke-width="2.3"/>
<path d="M1694.90 1170.90 L1698.30 1178.40 L1694.90 1175.55 L1691.50 1178.40 Z" fill="#000"/>
<line x1="1796.90" y1="1189.30" x2="1796.90" y2="1170.30" stroke="#000" stroke-width="2.3"/>
<path d="M1796.90 1170.30 L1800.30 1177.80 L1796.90 1174.95 L1793.50 1177.80 Z" fill="#000"/>
<line x1="1873.90" y1="1189.30" x2="1873.90" y2="1167.10" stroke="#000" stroke-width="2.3"/>
<path d="M1873.90 1167.10 L1877.30 1174.60 L1873.90 1171.75 L1870.50 1174.60 Z" fill="#000"/>
<line x1="1949.40" y1="1189.30" x2="1949.40" y2="1168.00" stroke="#000" stroke-width="2.3"/>
<path d="M1949.40 1168.00 L1952.80 1175.50 L1949.40 1172.65 L1946.00 1175.50 Z" fill="#000"/>
<line x1="2018.10" y1="1189.30" x2="2018.10" y2="1166.10" stroke="#000" stroke-width="2.3"/>
<path d="M2018.10 1166.10 L2021.50 1173.60 L2018.10 1170.75 L2014.70 1173.60 Z" fill="#000"/>
<line x1="2089.90" y1="1189.30" x2="2089.90" y2="1166.80" stroke="#000" stroke-width="2.3"/>
<path d="M2089.90 1166.80 L2093.30 1174.30 L2089.90 1171.45 L2086.50 1174.30 Z" fill="#000"/>
<line x1="2161.40" y1="1189.30" x2="2161.40" y2="1165.70" stroke="#000" stroke-width="2.3"/>
<path d="M2161.40 1165.70 L2164.80 1173.20 L2161.40 1170.35 L2158.00 1173.20 Z" fill="#000"/>
<line x1="2302.60" y1="1189.30" x2="2302.60" y2="1167.10" stroke="#000" stroke-width="2.3"/>
<path d="M2302.60 1167.10 L2306.00 1174.60 L2302.60 1171.75 L2299.20 1174.60 Z" fill="#000"/>
<line x1="2233.10" y1="1189.30" x2="2233.10" y2="1165.50" stroke="#000" stroke-width="2.3"/>
<path d="M2233.10 1165.50 L2236.50 1173.00 L2233.10 1170.15 L2229.70 1173.00 Z" fill="#000"/>
<circle cx="1725.64" cy="815.08" r="10.0" fill="none" stroke="#000" stroke-width="1.0"/>
<ellipse cx="1756.25" cy="832.05" rx="33.9" ry="31.8" fill="#fbd063" stroke="#111" stroke-width="1.6"/>
<path d="M1723.92 824.93 L1715.63 826.24 L1719.21 823.87 L1717.00 820.19 Z" fill="#000"/>
<path d="M1733.08 808.41 L1725.39 805.05 L1729.68 804.97 L1729.79 800.69 Z" fill="#000"/>
<text x="1757.75" y="836.75" font-size="20.5" text-anchor="middle" fill="#050505"><tspan font-style="italic">p</tspan><tspan font-size="14" dy="5.4" dx="0.5">g</tspan></text>
<text x="1707.00" y="817.50" font-size="19.5" text-anchor="middle" fill="#000" >1</text>
<circle cx="1373.75" cy="981.25" r="32.6" fill="#b4934c"/>
<path d="M1373.75 981.25 L1350.70 958.20 A32.6 32.6 0 0 1 1396.80 958.20 Z" fill="#fbd063" />
<line x1="1373.75" y1="981.25" x2="1350.70" y2="958.20" stroke="#aaa4a4" stroke-width="1.6"/>
<line x1="1373.75" y1="981.25" x2="1396.80" y2="958.20" stroke="#aaa4a4" stroke-width="1.6"/>
<circle cx="1373.75" cy="981.25" r="32.6" fill="none" stroke="#aaa4a4" stroke-width="1.8"/>
<text x="1376.75" y="991.25" font-size="21" text-anchor="middle" fill="#050505"><tspan>F1</tspan><tspan font-size="15" dy="6.0" dx="0.8">g</tspan></text>
<circle cx="1567.00" cy="981.25" r="33.6" fill="#82aece"/>
<path d="M1567.00 981.25 L1537.20 965.74 A33.6 33.6 0 0 1 1596.80 965.74 Z" fill="#fbd063" />
<line x1="1567.00" y1="981.25" x2="1537.20" y2="965.74" stroke="#aaa4a4" stroke-width="1.6"/>
<line x1="1567.00" y1="981.25" x2="1596.80" y2="965.74" stroke="#aaa4a4" stroke-width="1.6"/>
<circle cx="1567.00" cy="981.25" r="33.6" fill="none" stroke="#aaa4a4" stroke-width="1.8"/>
<text x="1570.00" y="991.25" font-size="21" text-anchor="middle" fill="#050505"><tspan>F2</tspan><tspan font-size="15" dy="6.0" dx="0.8">g</tspan></text>
<circle cx="1756.25" cy="981.25" r="36.0" fill="#64ae96"/>
<path d="M1756.25 981.25 L1723.11 967.18 A36.0 36.0 0 0 1 1789.39 967.18 Z" fill="#fbd063" />
<line x1="1756.25" y1="981.25" x2="1789.39" y2="967.18" stroke="#aaa4a4" stroke-width="1.6"/>
<line x1="1756.25" y1="981.25" x2="1723.11" y2="967.18" stroke="#aaa4a4" stroke-width="1.6"/>
<circle cx="1756.25" cy="981.25" r="36.0" fill="none" stroke="#aaa4a4" stroke-width="1.8"/>
<text x="1757.15" y="989.15" font-size="21" text-anchor="middle" fill="#050505"><tspan>F3</tspan><tspan font-size="15" dy="6.0" dx="0.8">g</tspan></text>
<circle cx="1947.50" cy="983.00" r="34.0" fill="#fbd063"/>
<path d="M1947.50 983.00 L1913.83 987.73 A34.0 34.0 0 0 1 1916.44 969.17 Z" fill="#d98643" />
<line x1="1947.50" y1="983.00" x2="1916.44" y2="969.17" stroke="#aaa4a4" stroke-width="1.6"/>
<line x1="1947.50" y1="983.00" x2="1913.83" y2="987.73" stroke="#aaa4a4" stroke-width="1.6"/>
<circle cx="1947.50" cy="983.00" r="34.0" fill="none" stroke="#aaa4a4" stroke-width="1.8"/>
<text x="1951.30" y="992.50" font-size="21" text-anchor="middle" fill="#050505"><tspan>F4</tspan><tspan font-size="15" dy="6.0" dx="0.8">g</tspan></text>
<circle cx="2203.75" cy="980.75" r="36.0" fill="#4a6a86"/>
<path d="M2203.75 980.75 L2169.61 969.33 A36.0 36.0 0 0 1 2237.89 969.33 Z" fill="#fbd063" />
<line x1="2203.75" y1="980.75" x2="2169.61" y2="969.33" stroke="#aaa4a4" stroke-width="1.6"/>
<line x1="2203.75" y1="980.75" x2="2237.89" y2="969.33" stroke="#aaa4a4" stroke-width="1.6"/>
<circle cx="2203.75" cy="980.75" r="36.0" fill="none" stroke="#aaa4a4" stroke-width="1.8"/>
<text x="2206.55" y="990.05" font-size="21" text-anchor="middle" fill="#050505"><tspan>F5</tspan><tspan font-size="15" dy="6.0" dx="0.8">g</tspan></text>
<path d="M1273.75 969.40 C1263.50 954.50 1279.50 943.50 1293.75 950.60" fill="none" stroke="#000" stroke-width="1.0"/>
<ellipse cx="1294.5" cy="970.5" rx="19.8" ry="18.2" fill="#b4934c" stroke="#111" stroke-width="1.5"/>
<text x="1283.50" y="973.70" font-size="18.5" fill="#fff"><tspan font-style="italic">u</tspan><tspan font-size="11.5" dy="4.8" dx="1.0">F1</tspan></text>
<path d="M1274.90 970.30 L1269.94 965.17 L1273.06 965.70 L1274.96 963.17 Z" fill="#000"/>
<path d="M1296.10 951.60 L1288.97 951.86 L1291.45 949.90 L1290.83 946.79 Z" fill="#000"/>
<path d="M1466.25 971.40 C1456.00 956.50 1472.00 945.50 1486.25 952.60" fill="none" stroke="#000" stroke-width="1.0"/>
<ellipse cx="1487.0" cy="972.5" rx="19.8" ry="18.2" fill="#82aece" stroke="#111" stroke-width="1.5"/>
<text x="1476.00" y="975.70" font-size="18.5" fill="#fff"><tspan font-style="italic">u</tspan><tspan font-size="11.5" dy="4.8" dx="1.0">F2</tspan></text>
<path d="M1467.40 972.30 L1462.44 967.17 L1465.56 967.70 L1467.46 965.17 Z" fill="#000"/>
<path d="M1488.60 953.60 L1481.47 953.86 L1483.95 951.90 L1483.33 948.79 Z" fill="#000"/>
<path d="M1653.75 964.40 C1643.50 949.50 1659.50 938.50 1673.75 945.60" fill="none" stroke="#000" stroke-width="1.0"/>
<ellipse cx="1674.5" cy="965.5" rx="19.8" ry="18.2" fill="#64ae96" stroke="#111" stroke-width="1.5"/>
<text x="1663.50" y="968.70" font-size="18.5" fill="#fff"><tspan font-style="italic">u</tspan><tspan font-size="11.5" dy="4.8" dx="1.0">F3</tspan></text>
<path d="M1654.90 965.30 L1649.94 960.17 L1653.06 960.70 L1654.96 958.17 Z" fill="#000"/>
<path d="M1676.10 946.60 L1668.97 946.86 L1671.45 944.90 L1670.83 941.79 Z" fill="#000"/>
<path d="M1846.75 963.40 C1836.50 948.50 1852.50 937.50 1866.75 944.60" fill="none" stroke="#000" stroke-width="1.0"/>
<ellipse cx="1867.5" cy="964.5" rx="19.8" ry="18.2" fill="#d98643" stroke="#111" stroke-width="1.5"/>
<text x="1856.50" y="967.70" font-size="18.5" fill="#fff"><tspan font-style="italic">u</tspan><tspan font-size="11.5" dy="4.8" dx="1.0">F4</tspan></text>
<path d="M1847.90 964.30 L1842.94 959.17 L1846.06 959.70 L1847.96 957.17 Z" fill="#000"/>
<path d="M1869.10 945.60 L1861.97 945.86 L1864.45 943.90 L1863.83 940.79 Z" fill="#000"/>
<path d="M2101.00 968.15 C2090.75 953.25 2106.75 942.25 2121.00 949.35" fill="none" stroke="#000" stroke-width="1.0"/>
<ellipse cx="2121.75" cy="969.25" rx="19.8" ry="18.2" fill="#4a6a86" stroke="#111" stroke-width="1.5"/>
<text x="2110.75" y="972.45" font-size="18.5" fill="#fff"><tspan font-style="italic">u</tspan><tspan font-size="11.5" dy="4.8" dx="1.0">F5</tspan></text>
<path d="M2102.15 969.05 L2097.19 963.92 L2100.31 964.45 L2102.21 961.92 Z" fill="#000"/>
<path d="M2123.35 950.35 L2116.22 950.61 L2118.70 948.65 L2118.08 945.54 Z" fill="#000"/>
<circle cx="1293.30" cy="1139.30" r="28.3" fill="#8f64aa"/>
<path d="M1293.30 1139.30 L1269.43 1124.09 A28.3 28.3 0 0 1 1317.68 1124.94 Z" fill="#b4934c" />
<line x1="1293.30" y1="1139.30" x2="1317.68" y2="1124.94" stroke="#aaa4a4" stroke-width="1.6"/>
<line x1="1293.30" y1="1139.30" x2="1269.43" y2="1124.09" stroke="#aaa4a4" stroke-width="1.6"/>
<circle cx="1293.30" cy="1139.30" r="28.3" fill="none" stroke="#aaa4a4" stroke-width="1.8"/>
<circle cx="1370.00" cy="1136.30" r="28.6" fill="#b4934c"/>
<circle cx="1370.00" cy="1136.30" r="28.6" fill="none" stroke="#aaa4a4" stroke-width="1.8"/>
<line x1="1370.30" y1="1139.30" x2="1370.30" y2="1164.90" stroke="#aaa4a4" stroke-width="2.6"/>
<circle cx="1441.30" cy="1135.00" r="28.8" fill="#8f64aa"/>
<path d="M1441.30 1135.00 L1441.30 1106.20 A28.8 28.8 0 0 1 1453.47 1108.90 Z" fill="#b4934c" />
<path d="M1441.30 1135.00 L1453.47 1108.90 A28.8 28.8 0 0 1 1456.13 1110.31 Z" fill="#b9b4b4" />
<path d="M1441.30 1135.00 L1456.13 1110.31 A28.8 28.8 0 0 1 1459.03 1112.31 Z" fill="#6fc2a4" />
<path d="M1441.30 1135.00 L1459.03 1112.31 A28.8 28.8 0 0 1 1460.94 1113.94 Z" fill="#b9b4b4" />
<path d="M1441.30 1135.00 L1460.94 1113.94 A28.8 28.8 0 0 1 1462.36 1115.36 Z" fill="#c9934a" />
<path d="M1441.30 1135.00 L1462.36 1115.36 A28.8 28.8 0 0 1 1463.68 1116.88 Z" fill="#b9b4b4" />
<line x1="1441.30" y1="1135.00" x2="1441.30" y2="1106.20" stroke="#aaa4a4" stroke-width="1.2"/>
<line x1="1441.30" y1="1135.00" x2="1459.03" y2="1112.31" stroke="#aaa4a4" stroke-width="1.2"/>
<line x1="1441.30" y1="1135.00" x2="1460.94" y2="1113.94" stroke="#aaa4a4" stroke-width="1.2"/>
<line x1="1441.30" y1="1135.00" x2="1462.36" y2="1115.36" stroke="#aaa4a4" stroke-width="1.2"/>
<line x1="1441.30" y1="1135.00" x2="1463.68" y2="1116.88" stroke="#aaa4a4" stroke-width="1.2"/>
<line x1="1441.30" y1="1135.00" x2="1453.47" y2="1108.90" stroke="#aaa4a4" stroke-width="1.2"/>
<line x1="1441.30" y1="1135.00" x2="1456.13" y2="1110.31" stroke="#aaa4a4" stroke-width="1.2"/>
<circle cx="1441.30" cy="1135.00" r="28.8" fill="none" stroke="#aaa4a4" stroke-width="1.8"/>
<circle cx="1514.30" cy="1135.00" r="29.4" fill="#82aece"/>
<path d="M1514.30 1135.00 L1538.53 1151.65 A29.4 29.4 0 0 1 1489.37 1150.58 Z" fill="#8f64aa" />
<line x1="1514.30" y1="1135.00" x2="1538.53" y2="1151.65" stroke="#aaa4a4" stroke-width="1.6"/>
<line x1="1514.30" y1="1135.00" x2="1489.37" y2="1150.58" stroke="#aaa4a4" stroke-width="1.6"/>
<circle cx="1514.30" cy="1135.00" r="29.4" fill="none" stroke="#aaa4a4" stroke-width="1.8"/>
<circle cx="1611.80" cy="1136.80" r="29.5" fill="#82aece"/>
<path d="M1611.80 1136.80 L1636.54 1152.87 A29.5 29.5 0 0 1 1587.20 1153.08 Z" fill="#8f64aa" />
<line x1="1611.80" y1="1136.80" x2="1636.54" y2="1152.87" stroke="#aaa4a4" stroke-width="1.6"/>
<line x1="1611.80" y1="1136.80" x2="1587.20" y2="1153.08" stroke="#aaa4a4" stroke-width="1.6"/>
<circle cx="1611.80" cy="1136.80" r="29.5" fill="none" stroke="#aaa4a4" stroke-width="1.8"/>
<circle cx="1693.00" cy="1138.80" r="30.6" fill="#64ae96"/>
<path d="M1693.00 1138.80 L1723.14 1133.49 A30.6 30.6 0 1 1 1662.42 1137.73 Z" fill="#8f64aa" />
<line x1="1693.00" y1="1138.80" x2="1723.14" y2="1133.49" stroke="#aaa4a4" stroke-width="1.6"/>
<line x1="1693.00" y1="1138.80" x2="1662.42" y2="1137.73" stroke="#aaa4a4" stroke-width="1.6"/>
<circle cx="1693.00" cy="1138.80" r="30.6" fill="none" stroke="#aaa4a4" stroke-width="1.8"/>
<circle cx="1796.00" cy="1139.30" r="29.5" fill="#64ae96"/>
<path d="M1796.00 1139.30 L1797.54 1109.84 A29.5 29.5 0 0 1 1825.34 1136.22 Z" fill="#4a6a86" />
<path d="M1796.00 1139.30 L1825.34 1136.22 A29.5 29.5 0 0 1 1822.95 1151.30 Z" fill="url(#hatchG)" />
<path d="M1796.00 1139.30 L1822.95 1151.30 A29.5 29.5 0 0 1 1770.45 1154.05 Z" fill="#8f64aa" />
<line x1="1796.00" y1="1139.30" x2="1770.45" y2="1154.05" stroke="#aaa4a4" stroke-width="1.6"/>
<line x1="1796.00" y1="1139.30" x2="1822.95" y2="1151.30" stroke="#aaa4a4" stroke-width="1.6"/>
<line x1="1796.00" y1="1139.30" x2="1797.54" y2="1109.84" stroke="#aaa4a4" stroke-width="1.6"/>
<line x1="1796.00" y1="1139.30" x2="1825.34" y2="1136.22" stroke="#aaa4a4" stroke-width="1.6"/>
<circle cx="1796.00" cy="1139.30" r="29.5" fill="none" stroke="#aaa4a4" stroke-width="1.8"/>
<circle cx="1872.00" cy="1135.00" r="30.6" fill="#d98643"/>
<circle cx="1872.00" cy="1135.00" r="30.6" fill="none" stroke="#aaa4a4" stroke-width="1.8"/>
<line x1="1872.30" y1="1140.00" x2="1872.30" y2="1165.60" stroke="#aaa4a4" stroke-width="2.6"/>
<circle cx="1947.50" cy="1136.30" r="30.2" fill="#d98643"/>
<path d="M1947.50 1136.30 L1954.29 1165.73 A30.2 30.2 0 0 1 1942.78 1166.13 Z" fill="#8f64aa" />
<line x1="1947.50" y1="1136.30" x2="1942.78" y2="1166.13" stroke="#aaa4a4" stroke-width="1.6"/>
<line x1="1947.50" y1="1136.30" x2="1954.29" y2="1165.73" stroke="#aaa4a4" stroke-width="1.6"/>
<circle cx="1947.50" cy="1136.30" r="30.2" fill="none" stroke="#aaa4a4" stroke-width="1.8"/>
<circle cx="2016.30" cy="1136.80" r="27.8" fill="#d98643"/>
<path d="M2016.30 1136.80 L2032.25 1159.57 A27.8 27.8 0 0 1 2000.75 1159.85 Z" fill="#a683be" />
<path d="M2016.30 1136.80 L2000.75 1159.85 A27.8 27.8 0 0 1 1988.71 1133.41 Z" fill="url(#hatchO)" />
<path d="M2016.30 1136.80 L1988.71 1133.41 A27.8 27.8 0 0 1 1995.32 1118.56 Z" fill="#d0a867" />
<line x1="2016.30" y1="1136.80" x2="2032.25" y2="1159.57" stroke="#aaa4a4" stroke-width="1.6"/>
<line x1="2016.30" y1="1136.80" x2="1988.71" y2="1133.41" stroke="#aaa4a4" stroke-width="1.6"/>
<line x1="2016.30" y1="1136.80" x2="2000.75" y2="1159.85" stroke="#aaa4a4" stroke-width="1.6"/>
<line x1="2016.30" y1="1136.80" x2="1995.32" y2="1118.56" stroke="#aaa4a4" stroke-width="1.6"/>
<circle cx="2016.30" cy="1136.80" r="27.8" fill="none" stroke="#aaa4a4" stroke-width="1.8"/>
<circle cx="2089.30" cy="1136.30" r="29.0" fill="#4a6a86"/>
<path d="M2089.30 1136.30 L2116.72 1145.74 A29.0 29.0 0 0 1 2063.46 1149.47 Z" fill="#8f64aa" />
<line x1="2089.30" y1="1136.30" x2="2063.46" y2="1149.47" stroke="#aaa4a4" stroke-width="1.6"/>
<line x1="2089.30" y1="1136.30" x2="2116.72" y2="1145.74" stroke="#aaa4a4" stroke-width="1.6"/>
<circle cx="2089.30" cy="1136.30" r="29.0" fill="none" stroke="#aaa4a4" stroke-width="1.8"/>
<circle cx="2159.50" cy="1135.00" r="29.2" fill="#4a6a86"/>
<path d="M2159.50 1135.00 L2187.19 1144.27 A29.2 29.2 0 0 1 2133.26 1147.80 Z" fill="#8f64aa" />
<line x1="2159.50" y1="1135.00" x2="2187.19" y2="1144.27" stroke="#aaa4a4" stroke-width="1.6"/>
<line x1="2159.50" y1="1135.00" x2="2133.26" y2="1147.80" stroke="#aaa4a4" stroke-width="1.6"/>
<circle cx="2159.50" cy="1135.00" r="29.2" fill="none" stroke="#aaa4a4" stroke-width="1.8"/>
<circle cx="2231.30" cy="1135.00" r="29.0" fill="#4a6a86"/>
<path d="M2231.30 1135.00 L2259.77 1129.47 A29.0 29.0 0 1 1 2202.30 1134.65 Z" fill="#8f64aa" />
<line x1="2231.30" y1="1135.00" x2="2202.30" y2="1134.65" stroke="#aaa4a4" stroke-width="1.6"/>
<line x1="2231.30" y1="1135.00" x2="2259.77" y2="1129.47" stroke="#aaa4a4" stroke-width="1.6"/>
<circle cx="2231.30" cy="1135.00" r="29.0" fill="none" stroke="#aaa4a4" stroke-width="1.8"/>
<circle cx="2303.80" cy="1136.30" r="29.3" fill="#4a6a86"/>
<path d="M2303.80 1136.30 L2324.52 1157.02 A29.3 29.3 0 0 1 2286.17 1159.70 Z" fill="#8f64aa" />
<line x1="2303.80" y1="1136.30" x2="2286.17" y2="1159.70" stroke="#aaa4a4" stroke-width="1.6"/>
<line x1="2303.80" y1="1136.30" x2="2324.52" y2="1157.02" stroke="#aaa4a4" stroke-width="1.6"/>
<circle cx="2303.80" cy="1136.30" r="29.3" fill="none" stroke="#aaa4a4" stroke-width="1.8"/>
<text x="1294.30" y="1143.75" font-size="16.5" text-anchor="middle" fill="#fff"><tspan>AN</tspan><tspan font-size="11.6" dy="4.4" dx="0.3">g</tspan></text>
<text x="1371.00" y="1139.40" font-size="16.5" text-anchor="middle" fill="#fff"><tspan>OCD</tspan><tspan font-size="11.6" dy="4.4" dx="0.3">g</tspan></text>
<text x="1442.30" y="1138.10" font-size="16.5" text-anchor="middle" fill="#fff"><tspan>TS</tspan><tspan font-size="11.6" dy="4.4" dx="0.3">g</tspan></text>
<text x="1515.30" y="1138.75" font-size="16.5" text-anchor="middle" fill="#fff"><tspan>SCZ</tspan><tspan font-size="11.6" dy="4.4" dx="0.3">g</tspan></text>
<text x="1612.80" y="1140.60" font-size="16.5" text-anchor="middle" fill="#fff"><tspan>BIP</tspan><tspan font-size="11.6" dy="4.4" dx="0.3">g</tspan></text>
<text x="1694.00" y="1141.25" font-size="16.5" text-anchor="middle" fill="#fff"><tspan>ASD</tspan><tspan font-size="11.6" dy="4.4" dx="0.3">g</tspan></text>
<text x="1797.00" y="1140.00" font-size="16.5" text-anchor="middle" fill="#fff"><tspan>ADHD</tspan><tspan font-size="11.6" dy="4.4" dx="0.3">g</tspan></text>
<text x="1873.00" y="1140.00" font-size="16.5" text-anchor="middle" fill="#fff"><tspan>PTSD</tspan><tspan font-size="11.6" dy="4.4" dx="0.3">g</tspan></text>
<text x="1948.50" y="1140.00" font-size="16.5" text-anchor="middle" fill="#fff"><tspan>MD</tspan><tspan font-size="11.6" dy="4.4" dx="0.3">g</tspan></text>
<text x="2017.30" y="1140.00" font-size="16.5" text-anchor="middle" fill="#fff"><tspan>ANX</tspan><tspan font-size="11.6" dy="4.4" dx="0.3">g</tspan></text>
<text x="2090.30" y="1138.75" font-size="16.5" text-anchor="middle" fill="#fff"><tspan>CUD</tspan><tspan font-size="11.6" dy="4.4" dx="0.3">g</tspan></text>
<text x="2160.50" y="1138.10" font-size="16.5" text-anchor="middle" fill="#fff"><tspan>AUD</tspan><tspan font-size="11.6" dy="4.4" dx="0.3">g</tspan></text>
<text x="2304.80" y="1140.00" font-size="16.5" text-anchor="middle" fill="#fff"><tspan>OUD</tspan><tspan font-size="11.6" dy="4.4" dx="0.3">g</tspan></text>
<text x="2232.30" y="1140.00" font-size="16.5" text-anchor="middle" fill="#fff"><tspan>NIC</tspan><tspan font-size="11.6" dy="4.4" dx="0.3">g</tspan></text>
<ellipse cx="1294.50" cy="1205.80" rx="20.2" ry="18.2" fill="#a07fba" stroke="#1a1a1a" stroke-width="1.5"/>
<text x="1283.20" y="1207.30" font-size="17" fill="#fff"><tspan font-style="italic">u</tspan><tspan font-size="10.0" dy="4.3" dx="0.6">AN</tspan></text>
<path d="M1285.10 1226.50 Q1294.50 1240.00 1303.90 1226.50" fill="none" stroke="#000" stroke-width="1.0"/>
<path d="M1284.30 1223.20 L1289.69 1227.58 L1286.71 1227.72 L1284.93 1230.12 Z" fill="#000"/>
<path d="M1304.70 1223.20 L1304.07 1230.12 L1302.29 1227.72 L1299.31 1227.58 Z" fill="#000"/>
<ellipse cx="1371.30" cy="1205.80" rx="20.2" ry="18.2" fill="#a07fba" stroke="#1a1a1a" stroke-width="1.5"/>
<text x="1357.10" y="1207.30" font-size="17" fill="#fff"><tspan font-style="italic">u</tspan><tspan font-size="10.0" dy="4.3" dx="0.6">OCD</tspan></text>
<path d="M1361.90 1226.50 Q1371.30 1240.00 1380.70 1226.50" fill="none" stroke="#000" stroke-width="1.0"/>
<path d="M1361.10 1223.20 L1366.49 1227.58 L1363.51 1227.72 L1361.73 1230.12 Z" fill="#000"/>
<path d="M1381.50 1223.20 L1380.87 1230.12 L1379.09 1227.72 L1376.11 1227.58 Z" fill="#000"/>
<ellipse cx="1442.50" cy="1206.30" rx="20.2" ry="18.2" fill="#a07fba" stroke="#1a1a1a" stroke-width="1.5"/>
<text x="1431.20" y="1207.80" font-size="17" fill="#fff"><tspan font-style="italic">u</tspan><tspan font-size="10.0" dy="4.3" dx="0.6">TS</tspan></text>
<path d="M1433.10 1227.00 Q1442.50 1240.50 1451.90 1227.00" fill="none" stroke="#000" stroke-width="1.0"/>
<path d="M1432.30 1223.70 L1437.69 1228.08 L1434.71 1228.22 L1432.93 1230.62 Z" fill="#000"/>
<path d="M1452.70 1223.70 L1452.07 1230.62 L1450.29 1228.22 L1447.31 1228.08 Z" fill="#000"/>
<ellipse cx="1515.00" cy="1206.30" rx="20.2" ry="18.2" fill="#a07fba" stroke="#1a1a1a" stroke-width="1.5"/>
<text x="1500.80" y="1207.80" font-size="17" fill="#fff"><tspan font-style="italic">u</tspan><tspan font-size="10.0" dy="4.3" dx="0.6">SCZ</tspan></text>
<path d="M1505.60 1227.00 Q1515.00 1240.50 1524.40 1227.00" fill="none" stroke="#000" stroke-width="1.0"/>
<path d="M1504.80 1223.70 L1510.19 1228.08 L1507.21 1228.22 L1505.43 1230.62 Z" fill="#000"/>
<path d="M1525.20 1223.70 L1524.57 1230.62 L1522.79 1228.22 L1519.81 1228.08 Z" fill="#000"/>
<ellipse cx="1613.30" cy="1206.80" rx="20.2" ry="18.2" fill="#a07fba" stroke="#1a1a1a" stroke-width="1.5"/>
<text x="1599.10" y="1208.30" font-size="17" fill="#fff"><tspan font-style="italic">u</tspan><tspan font-size="10.0" dy="4.3" dx="0.6">BIP</tspan></text>
<path d="M1603.90 1227.50 Q1613.30 1241.00 1622.70 1227.50" fill="none" stroke="#000" stroke-width="1.0"/>
<path d="M1603.10 1224.20 L1608.49 1228.58 L1605.51 1228.72 L1603.73 1231.12 Z" fill="#000"/>
<path d="M1623.50 1224.20 L1622.87 1231.12 L1621.09 1228.72 L1618.11 1228.58 Z" fill="#000"/>
<ellipse cx="1694.30" cy="1206.80" rx="20.2" ry="18.2" fill="#a07fba" stroke="#1a1a1a" stroke-width="1.5"/>
<text x="1680.10" y="1208.30" font-size="17" fill="#fff"><tspan font-style="italic">u</tspan><tspan font-size="10.0" dy="4.3" dx="0.6">ASD</tspan></text>
<path d="M1684.90 1227.50 Q1694.30 1241.00 1703.70 1227.50" fill="none" stroke="#000" stroke-width="1.0"/>
<path d="M1684.10 1224.20 L1689.49 1228.58 L1686.51 1228.72 L1684.73 1231.12 Z" fill="#000"/>
<path d="M1704.50 1224.20 L1703.87 1231.12 L1702.09 1228.72 L1699.11 1228.58 Z" fill="#000"/>
<ellipse cx="1796.30" cy="1206.80" rx="20.2" ry="18.2" fill="#a07fba" stroke="#1a1a1a" stroke-width="1.5"/>
<text x="1777.40" y="1208.30" font-size="17" fill="#fff"><tspan font-style="italic">u</tspan><tspan font-size="9.5" dy="4.3" dx="0.6">ADHD</tspan></text>
<path d="M1786.90 1227.50 Q1796.30 1241.00 1805.70 1227.50" fill="none" stroke="#000" stroke-width="1.0"/>
<path d="M1786.10 1224.20 L1791.49 1228.58 L1788.51 1228.72 L1786.73 1231.12 Z" fill="#000"/>
<path d="M1806.50 1224.20 L1805.87 1231.12 L1804.09 1228.72 L1801.11 1228.58 Z" fill="#000"/>
<ellipse cx="1873.30" cy="1206.80" rx="20.2" ry="18.2" fill="#a07fba" stroke="#1a1a1a" stroke-width="1.5"/>
<text x="1854.40" y="1208.30" font-size="17" fill="#fff"><tspan font-style="italic">u</tspan><tspan font-size="9.5" dy="4.3" dx="0.6">PTSD</tspan></text>
<path d="M1863.90 1227.50 Q1873.30 1241.00 1882.70 1227.50" fill="none" stroke="#000" stroke-width="1.0"/>
<path d="M1863.10 1224.20 L1868.49 1228.58 L1865.51 1228.72 L1863.73 1231.12 Z" fill="#000"/>
<path d="M1883.50 1224.20 L1882.87 1231.12 L1881.09 1228.72 L1878.11 1228.58 Z" fill="#000"/>
<ellipse cx="1948.80" cy="1206.80" rx="20.2" ry="18.2" fill="#a07fba" stroke="#1a1a1a" stroke-width="1.5"/>
<text x="1934.60" y="1208.30" font-size="17" fill="#fff"><tspan font-style="italic">u</tspan><tspan font-size="10.0" dy="4.3" dx="0.6">MDD</tspan></text>
<path d="M1939.40 1227.50 Q1948.80 1241.00 1958.20 1227.50" fill="none" stroke="#000" stroke-width="1.0"/>
<path d="M1938.60 1224.20 L1943.99 1228.58 L1941.01 1228.72 L1939.23 1231.12 Z" fill="#000"/>
<path d="M1959.00 1224.20 L1958.37 1231.12 L1956.59 1228.72 L1953.61 1228.58 Z" fill="#000"/>
<ellipse cx="2017.50" cy="1206.80" rx="20.2" ry="18.2" fill="#a07fba" stroke="#1a1a1a" stroke-width="1.5"/>
<text x="2003.30" y="1208.30" font-size="17" fill="#fff"><tspan font-style="italic">u</tspan><tspan font-size="10.0" dy="4.3" dx="0.6">ANX</tspan></text>
<path d="M2008.10 1227.50 Q2017.50 1241.00 2026.90 1227.50" fill="none" stroke="#000" stroke-width="1.0"/>
<path d="M2007.30 1224.20 L2012.69 1228.58 L2009.71 1228.72 L2007.93 1231.12 Z" fill="#000"/>
<path d="M2027.70 1224.20 L2027.07 1231.12 L2025.29 1228.72 L2022.31 1228.58 Z" fill="#000"/>
<ellipse cx="2089.30" cy="1206.80" rx="20.2" ry="18.2" fill="#a07fba" stroke="#1a1a1a" stroke-width="1.5"/>
<text x="2075.10" y="1208.30" font-size="17" fill="#fff"><tspan font-style="italic">u</tspan><tspan font-size="10.0" dy="4.3" dx="0.6">CUD</tspan></text>
<path d="M2079.90 1227.50 Q2089.30 1241.00 2098.70 1227.50" fill="none" stroke="#000" stroke-width="1.0"/>
<path d="M2079.10 1224.20 L2084.49 1228.58 L2081.51 1228.72 L2079.73 1231.12 Z" fill="#000"/>
<path d="M2099.50 1224.20 L2098.87 1231.12 L2097.09 1228.72 L2094.11 1228.58 Z" fill="#000"/>
<ellipse cx="2160.80" cy="1206.80" rx="20.2" ry="18.2" fill="#a07fba" stroke="#1a1a1a" stroke-width="1.5"/>
<text x="2146.60" y="1208.30" font-size="17" fill="#fff"><tspan font-style="italic">u</tspan><tspan font-size="10.0" dy="4.3" dx="0.6">AUD</tspan></text>
<path d="M2151.40 1227.50 Q2160.80 1241.00 2170.20 1227.50" fill="none" stroke="#000" stroke-width="1.0"/>
<path d="M2150.60 1224.20 L2155.99 1228.58 L2153.01 1228.72 L2151.23 1231.12 Z" fill="#000"/>
<path d="M2171.00 1224.20 L2170.37 1231.12 L2168.59 1228.72 L2165.61 1228.58 Z" fill="#000"/>
<ellipse cx="2302.00" cy="1206.80" rx="20.2" ry="18.2" fill="#a07fba" stroke="#1a1a1a" stroke-width="1.5"/>
<text x="2287.80" y="1208.30" font-size="17" fill="#fff"><tspan font-style="italic">u</tspan><tspan font-size="10.0" dy="4.3" dx="0.6">OUD</tspan></text>
<path d="M2292.60 1227.50 Q2302.00 1241.00 2311.40 1227.50" fill="none" stroke="#000" stroke-width="1.0"/>
<path d="M2291.80 1224.20 L2297.19 1228.58 L2294.21 1228.72 L2292.43 1231.12 Z" fill="#000"/>
<path d="M2312.20 1224.20 L2311.57 1231.12 L2309.79 1228.72 L2306.81 1228.58 Z" fill="#000"/>
<ellipse cx="2232.50" cy="1206.80" rx="20.2" ry="18.2" fill="#a07fba" stroke="#1a1a1a" stroke-width="1.5"/>
<text x="2218.30" y="1208.30" font-size="17" fill="#fff"><tspan font-style="italic">u</tspan><tspan font-size="10.0" dy="4.3" dx="0.6">NIC</tspan></text>
<path d="M2223.10 1227.50 Q2232.50 1241.00 2241.90 1227.50" fill="none" stroke="#000" stroke-width="1.0"/>
<path d="M2222.30 1224.20 L2227.69 1228.58 L2224.71 1228.72 L2222.93 1231.12 Z" fill="#000"/>
<path d="M2242.70 1224.20 L2242.07 1231.12 L2240.29 1228.72 L2237.31 1228.58 Z" fill="#000"/>
<text x="1307.30" y="1179.50" font-size="19.5" text-anchor="middle" fill="#000" >1</text>
<text x="1385.00" y="1178.50" font-size="19.5" text-anchor="middle" fill="#000" >1</text>
<text x="1455.50" y="1180.50" font-size="19.5" text-anchor="middle" fill="#000" >1</text>
<text x="1527.50" y="1180.50" font-size="19.5" text-anchor="middle" fill="#000" >1</text>
<text x="1626.00" y="1181.50" font-size="19.5" text-anchor="middle" fill="#000" >1</text>
<text x="1706.50" y="1180.50" font-size="19.5" text-anchor="middle" fill="#000" >1</text>
<text x="1809.00" y="1180.50" font-size="19.5" text-anchor="middle" fill="#000" >1</text>
<text x="1884.30" y="1180.40" font-size="15" text-anchor="middle" fill="#000" >1</text>
<text x="1960.50" y="1180.40" font-size="15" text-anchor="middle" fill="#000" >1</text>
<text x="2027.50" y="1181.40" font-size="15" text-anchor="middle" fill="#000" >1</text>
<text x="2101.00" y="1181.40" font-size="15" text-anchor="middle" fill="#000" >1</text>
<text x="2173.50" y="1180.40" font-size="15" text-anchor="middle" fill="#000" >1</text>
<text x="2244.50" y="1180.40" font-size="15" text-anchor="middle" fill="#000" >1</text>
<text x="2313.80" y="1181.40" font-size="15" text-anchor="middle" fill="#000" >1</text>
<rect x="1574.65" y="879.00" width="57.70" height="32.5" fill="#fff"/>
<rect x="1649.95" y="891.50" width="51.20" height="28" fill="#fff"/>
<rect x="1732.95" y="890.50" width="46.70" height="41" fill="#fff"/>
<rect x="1821.65" y="891.00" width="52.70" height="32.5" fill="#fff"/>
<rect x="1938.65" y="881.00" width="56.20" height="32.5" fill="#fff"/>
<rect x="1298.65" y="1040.00" width="50.20" height="32.5" fill="#fff"/>
<rect x="1347.45" y="1049.00" width="46.70" height="32.5" fill="#fff"/>
<rect x="1395.15" y="1043.50" width="50.20" height="32.5" fill="#fff"/>
<rect x="1466.65" y="1018.00" width="46.70" height="32.5" fill="#fff"/>
<rect x="1513.45" y="1071.80" width="46.70" height="26" fill="#fff"/>
<rect x="1586.15" y="1065.50" width="46.70" height="32.5" fill="#fff"/>
<rect x="1640.45" y="1006.00" width="46.70" height="32.5" fill="#fff"/>
<rect x="1708.15" y="1029.80" width="46.70" height="32.5" fill="#fff"/>
<rect x="1760.65" y="1029.00" width="46.70" height="32.5" fill="#fff"/>
<rect x="1892.95" y="1033.50" width="46.70" height="28" fill="#fff"/>
<rect x="1932.45" y="1064.00" width="46.70" height="32.5" fill="#fff"/>
<rect x="1962.65" y="1027.30" width="53.20" height="32.5" fill="#fff"/>
<rect x="2033.65" y="1034.00" width="46.70" height="32.5" fill="#fff"/>
<rect x="2114.65" y="1039.80" width="46.70" height="32.5" fill="#fff"/>
<rect x="2156.65" y="1056.50" width="46.70" height="32.5" fill="#fff"/>
<rect x="2203.65" y="1061.50" width="46.70" height="32.5" fill="#fff"/>
<rect x="2235.95" y="1042.30" width="46.70" height="32.5" fill="#fff"/>
<text x="1602.00" y="903.80" font-size="20.4" text-anchor="middle" fill="#000" >0.50</text>
<text x="1678.80" y="911.80" font-size="20.4" text-anchor="middle" fill="#000" >0.59</text>
<text x="1756.30" y="921.80" font-size="20.4" text-anchor="middle" fill="#000" >0.61</text>
<text x="1848.00" y="915.80" font-size="20.4" text-anchor="middle" fill="#000" >0.95</text>
<text x="1968.00" y="905.80" font-size="20.4" text-anchor="middle" fill="#000" >0.63</text>
<text x="1249.30" y="955.60" font-size="20.4" text-anchor="middle" fill="#000" >0.75</text>
<text x="1444.30" y="956.80" font-size="20.4" text-anchor="middle" fill="#000" >0.65</text>
<text x="1626.30" y="955.60" font-size="20.4" text-anchor="middle" fill="#000" >0.63</text>
<text x="1821.30" y="953.60" font-size="20.4" text-anchor="middle" fill="#000" >0.10</text>
<text x="2074.30" y="958.60" font-size="20.4" text-anchor="middle" fill="#000" >0.61</text>
<text x="1322.00" y="1064.80" font-size="20.4" text-anchor="middle" fill="#000" >0.56</text>
<text x="1370.80" y="1073.80" font-size="20.4" text-anchor="middle" fill="#000" >0.99</text>
<text x="1422.00" y="1068.30" font-size="20.4" text-anchor="middle" fill="#000" >0.30</text>
<text x="1490.00" y="1042.80" font-size="20.4" text-anchor="middle" fill="#000" >0.27</text>
<text x="1536.80" y="1092.10" font-size="20.4" text-anchor="middle" fill="#000" >0.82</text>
<text x="1609.50" y="1090.30" font-size="20.4" text-anchor="middle" fill="#000" >0.82</text>
<text x="1663.80" y="1030.80" font-size="20.4" text-anchor="middle" fill="#000" >0.13</text>
<text x="1731.50" y="1054.60" font-size="20.4" text-anchor="middle" fill="#000" >0.57</text>
<text x="1784.00" y="1053.80" font-size="20.4" text-anchor="middle" fill="#000" >0.63</text>
<text x="1916.30" y="1053.80" font-size="20.4" text-anchor="middle" fill="#000" >0.99</text>
<text x="1955.80" y="1088.80" font-size="20.4" text-anchor="middle" fill="#000" >0.97</text>
<text x="1992.50" y="1052.10" font-size="20.4" text-anchor="middle" fill="#000" >0.75</text>
<text x="2057.00" y="1058.80" font-size="20.4" text-anchor="middle" fill="#000" >0.36</text>
<text x="2138.00" y="1064.60" font-size="20.4" text-anchor="middle" fill="#000" >0.78</text>
<text x="2180.00" y="1081.30" font-size="20.4" text-anchor="middle" fill="#000" >0.78</text>
<text x="2227.00" y="1086.30" font-size="20.4" text-anchor="middle" fill="#000" >0.69</text>
<text x="2259.30" y="1067.10" font-size="20.4" text-anchor="middle" fill="#000" >0.88</text>
<text x="1330.00" y="973.00" font-size="19.5" text-anchor="middle" fill="#000" >1</text>
<text x="1522.00" y="974.00" font-size="19.5" text-anchor="middle" fill="#000" >1</text>
<text x="1709.50" y="967.00" font-size="19.5" text-anchor="middle" fill="#000" >1</text>
<text x="1902.00" y="966.50" font-size="19.5" text-anchor="middle" fill="#000" >1</text>
<text x="2155.80" y="970.80" font-size="19.5" text-anchor="middle" fill="#000" >1</text>
<text x="1299.30" y="1253.80" font-size="20.5" text-anchor="middle" fill="#000" >0.68</text>
<text x="1372.00" y="1253.80" font-size="20.5" text-anchor="middle" fill="#000" >&lt;0.01</text>
<text x="1447.00" y="1252.00" font-size="20.5" text-anchor="middle" fill="#000" >0.87</text>
<text x="1517.00" y="1253.80" font-size="20.5" text-anchor="middle" fill="#000" >0.32</text>
<text x="1616.30" y="1253.80" font-size="20.5" text-anchor="middle" fill="#000" >0.32</text>
<text x="1697.00" y="1255.00" font-size="20.5" text-anchor="middle" fill="#000" >0.67</text>
<text x="1798.50" y="1253.80" font-size="20.5" text-anchor="middle" fill="#000" >0.31</text>
<text x="1871.30" y="1255.00" font-size="20.5" text-anchor="middle" fill="#000" >&lt;0.01</text>
<text x="1949.30" y="1252.50" font-size="20.5" text-anchor="middle" fill="#000" >0.06</text>
<text x="2018.00" y="1255.00" font-size="20.5" text-anchor="middle" fill="#000" >0.17</text>
<text x="2092.00" y="1255.00" font-size="20.5" text-anchor="middle" fill="#000" >0.39</text>
<text x="2163.30" y="1255.00" font-size="20.5" text-anchor="middle" fill="#000" >0.39</text>
<text x="2233.80" y="1255.00" font-size="20.5" text-anchor="middle" fill="#000" >0.53</text>
<text x="2305.80" y="1255.00" font-size="20.5" text-anchor="middle" fill="#000" >0.22</text>
<text x="1372.00" y="1287.50" font-size="21.4" text-anchor="middle" fill="#b4934c" stroke="#b4934c" stroke-width="0.3">Compulsive</text>
<text x="1371.50" y="1312.50" font-size="21.3" text-anchor="middle" fill="#b4934c" stroke="#b4934c" stroke-width="0.3">disorders</text>
<text x="1564.30" y="1287.50" font-size="21.8" text-anchor="middle" fill="#73a7d1" stroke="#73a7d1" stroke-width="0.3">SB</text>
<text x="1756.00" y="1287.50" font-size="20.95" text-anchor="middle" fill="#52a78f" stroke="#52a78f" stroke-width="0.3">Neurodevelopmental</text>
<text x="1756.00" y="1312.50" font-size="21.3" text-anchor="middle" fill="#52a78f" stroke="#52a78f" stroke-width="0.3">disorders</text>
<text x="1943.80" y="1287.50" font-size="20.6" text-anchor="middle" fill="#d98a52" stroke="#d98a52" stroke-width="0.3">Internalizing</text>
<text x="1944.30" y="1312.50" font-size="21.3" text-anchor="middle" fill="#d98a52" stroke="#d98a52" stroke-width="0.3">disorders</text>
<text x="2188.80" y="1287.50" font-size="20.4" text-anchor="middle" fill="#4d7699" stroke="#4d7699" stroke-width="0.3">SUD</text>
</g>
</svg></body></html>
